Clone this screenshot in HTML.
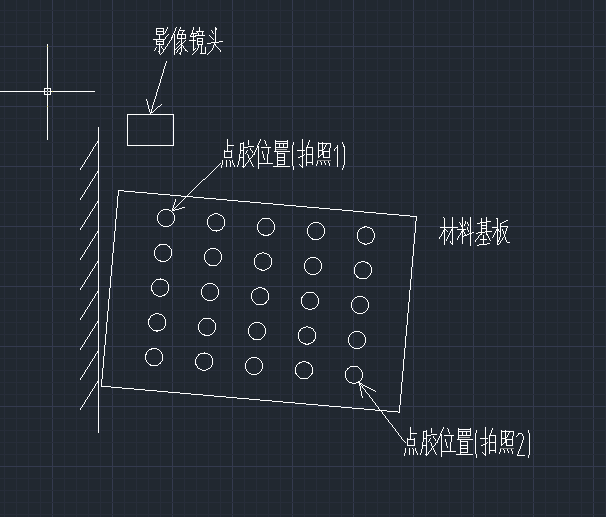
<!DOCTYPE html>
<html><head><meta charset="utf-8"><title>CAD</title>
<style>html,body{margin:0;padding:0;background:#212830;overflow:hidden;font-family:"Liberation Sans",sans-serif}svg{display:block}</style>
</head><body><svg width="606" height="517" viewBox="0 0 606 517" role="img" aria-label="CAD drawing"><desc>影像镜头 点胶位置(拍照1) 材料基板 点胶位置(拍照2)</desc><rect width="606" height="517" fill="#212830"/><g shape-rendering="crispEdges"><rect x="4" y="0" width="1" height="517" fill="#272d39"/><rect x="16" y="0" width="1" height="517" fill="#272d39"/><rect x="28" y="0" width="1" height="517" fill="#272d39"/><rect x="40" y="0" width="1" height="517" fill="#272d39"/><rect x="52" y="0" width="1" height="517" fill="#343a4e"/><rect x="64" y="0" width="1" height="517" fill="#272d39"/><rect x="76" y="0" width="1" height="517" fill="#272d39"/><rect x="88" y="0" width="1" height="517" fill="#272d39"/><rect x="100" y="0" width="1" height="517" fill="#272d39"/><rect x="112" y="0" width="1" height="517" fill="#343a4e"/><rect x="124" y="0" width="1" height="517" fill="#272d39"/><rect x="136" y="0" width="1" height="517" fill="#272d39"/><rect x="148" y="0" width="1" height="517" fill="#272d39"/><rect x="160" y="0" width="1" height="517" fill="#272d39"/><rect x="172" y="0" width="1" height="517" fill="#343a4e"/><rect x="184" y="0" width="1" height="517" fill="#272d39"/><rect x="196" y="0" width="1" height="517" fill="#272d39"/><rect x="208" y="0" width="1" height="517" fill="#272d39"/><rect x="220" y="0" width="1" height="517" fill="#272d39"/><rect x="232" y="0" width="1" height="517" fill="#343a4e"/><rect x="244" y="0" width="1" height="517" fill="#272d39"/><rect x="256" y="0" width="1" height="517" fill="#272d39"/><rect x="268" y="0" width="1" height="517" fill="#272d39"/><rect x="280" y="0" width="1" height="517" fill="#272d39"/><rect x="292" y="0" width="1" height="517" fill="#343a4e"/><rect x="304" y="0" width="1" height="517" fill="#272d39"/><rect x="316" y="0" width="1" height="517" fill="#272d39"/><rect x="329" y="0" width="1" height="517" fill="#272d39"/><rect x="341" y="0" width="1" height="517" fill="#272d39"/><rect x="353" y="0" width="1" height="517" fill="#343a4e"/><rect x="365" y="0" width="1" height="517" fill="#272d39"/><rect x="377" y="0" width="1" height="517" fill="#272d39"/><rect x="389" y="0" width="1" height="517" fill="#272d39"/><rect x="401" y="0" width="1" height="517" fill="#272d39"/><rect x="413" y="0" width="1" height="517" fill="#343a4e"/><rect x="425" y="0" width="1" height="517" fill="#272d39"/><rect x="437" y="0" width="1" height="517" fill="#272d39"/><rect x="449" y="0" width="1" height="517" fill="#272d39"/><rect x="461" y="0" width="1" height="517" fill="#272d39"/><rect x="473" y="0" width="1" height="517" fill="#343a4e"/><rect x="485" y="0" width="1" height="517" fill="#272d39"/><rect x="497" y="0" width="1" height="517" fill="#272d39"/><rect x="509" y="0" width="1" height="517" fill="#272d39"/><rect x="521" y="0" width="1" height="517" fill="#272d39"/><rect x="533" y="0" width="1" height="517" fill="#343a4e"/><rect x="545" y="0" width="1" height="517" fill="#272d39"/><rect x="557" y="0" width="1" height="517" fill="#272d39"/><rect x="569" y="0" width="1" height="517" fill="#272d39"/><rect x="581" y="0" width="1" height="517" fill="#272d39"/><rect x="593" y="0" width="1" height="517" fill="#343a4e"/><rect x="605" y="0" width="1" height="517" fill="#272d39"/><rect x="0" y="10" width="606" height="1" fill="#272d39"/><rect x="0" y="22" width="606" height="1" fill="#272d39"/><rect x="0" y="34" width="606" height="1" fill="#272d39"/><rect x="0" y="46" width="606" height="1" fill="#343a4e"/><rect x="0" y="58" width="606" height="1" fill="#272d39"/><rect x="0" y="70" width="606" height="1" fill="#272d39"/><rect x="0" y="82" width="606" height="1" fill="#272d39"/><rect x="0" y="94" width="606" height="1" fill="#272d39"/><rect x="0" y="106" width="606" height="1" fill="#343a4e"/><rect x="0" y="118" width="606" height="1" fill="#272d39"/><rect x="0" y="130" width="606" height="1" fill="#272d39"/><rect x="0" y="142" width="606" height="1" fill="#272d39"/><rect x="0" y="154" width="606" height="1" fill="#272d39"/><rect x="0" y="166" width="606" height="1" fill="#343a4e"/><rect x="0" y="178" width="606" height="1" fill="#272d39"/><rect x="0" y="190" width="606" height="1" fill="#272d39"/><rect x="0" y="202" width="606" height="1" fill="#272d39"/><rect x="0" y="214" width="606" height="1" fill="#272d39"/><rect x="0" y="226" width="606" height="1" fill="#343a4e"/><rect x="0" y="238" width="606" height="1" fill="#272d39"/><rect x="0" y="250" width="606" height="1" fill="#272d39"/><rect x="0" y="262" width="606" height="1" fill="#272d39"/><rect x="0" y="274" width="606" height="1" fill="#272d39"/><rect x="0" y="286" width="606" height="1" fill="#343a4e"/><rect x="0" y="298" width="606" height="1" fill="#272d39"/><rect x="0" y="310" width="606" height="1" fill="#272d39"/><rect x="0" y="322" width="606" height="1" fill="#272d39"/><rect x="0" y="334" width="606" height="1" fill="#272d39"/><rect x="0" y="346" width="606" height="1" fill="#343a4e"/><rect x="0" y="358" width="606" height="1" fill="#272d39"/><rect x="0" y="370" width="606" height="1" fill="#272d39"/><rect x="0" y="382" width="606" height="1" fill="#272d39"/><rect x="0" y="394" width="606" height="1" fill="#272d39"/><rect x="0" y="406" width="606" height="1" fill="#343a4e"/><rect x="0" y="418" width="606" height="1" fill="#272d39"/><rect x="0" y="430" width="606" height="1" fill="#272d39"/><rect x="0" y="442" width="606" height="1" fill="#272d39"/><rect x="0" y="454" width="606" height="1" fill="#272d39"/><rect x="0" y="466" width="606" height="1" fill="#343a4e"/><rect x="0" y="478" width="606" height="1" fill="#272d39"/><rect x="0" y="490" width="606" height="1" fill="#272d39"/><rect x="0" y="502" width="606" height="1" fill="#272d39"/><rect x="0" y="514" width="606" height="1" fill="#272d39"/></g><path shape-rendering="crispEdges" fill="#fff" d="M167 27h1v1h-1zM176 27h1v1h-1zM180 27h1v1h-1zM193 27h1v1h-1zM199 27h1v1h-1zM215 27h1v1h-1zM156 28h8v1h-8zM167 28h1v1h-1zM175 28h1v1h-1zM180 28h1v1h-1zM193 28h1v1h-1zM199 28h1v1h-1zM215 28h2v1h-2zM156 29h1v1h-1zM163 29h1v1h-1zM166 29h1v1h-1zM175 29h1v1h-1zM179 29h1v1h-1zM193 29h1v1h-1zM199 29h1v1h-1zM215 29h2v1h-2zM156 30h1v1h-1zM163 30h1v1h-1zM166 30h1v1h-1zM175 30h1v1h-1zM179 30h6v1h-6zM192 30h1v1h-1zM199 30h1v1h-1zM211 30h1v1h-1zM215 30h1v1h-1zM156 31h8v1h-8zM165 31h1v1h-1zM174 31h1v1h-1zM178 31h1v1h-1zM183 31h1v1h-1zM192 31h1v1h-1zM196 31h8v1h-8zM212 31h1v1h-1zM215 31h1v1h-1zM156 32h1v1h-1zM163 32h1v1h-1zM165 32h1v1h-1zM174 32h1v1h-1zM178 32h1v1h-1zM182 32h1v1h-1zM192 32h1v1h-1zM197 32h1v1h-1zM202 32h1v1h-1zM212 32h1v1h-1zM215 32h1v1h-1zM156 33h1v1h-1zM163 33h2v1h-2zM173 33h1v1h-1zM178 33h1v1h-1zM182 33h1v1h-1zM191 33h6v1h-6zM198 33h1v1h-1zM202 33h1v1h-1zM213 33h1v1h-1zM215 33h1v1h-1zM156 34h8v1h-8zM168 34h1v1h-1zM173 34h2v1h-2zM177 34h9v1h-9zM191 34h1v1h-1zM193 34h1v1h-1zM198 34h1v1h-1zM202 34h1v1h-1zM215 34h1v1h-1zM159 35h1v1h-1zM167 35h1v1h-1zM172 35h1v1h-1zM174 35h1v1h-1zM177 35h1v1h-1zM181 35h1v1h-1zM185 35h1v1h-1zM190 35h1v1h-1zM193 35h1v1h-1zM195 35h10v1h-10zM209 35h1v1h-1zM215 35h1v1h-1zM159 36h1v1h-1zM166 36h1v1h-1zM172 36h1v1h-1zM174 36h1v1h-1zM177 36h1v1h-1zM181 36h1v1h-1zM185 36h1v1h-1zM190 36h6v1h-6zM210 36h1v1h-1zM215 36h1v1h-1zM159 37h1v1h-1zM165 37h1v1h-1zM171 37h2v1h-2zM174 37h1v1h-1zM177 37h1v1h-1zM181 37h1v1h-1zM185 37h1v1h-1zM193 37h1v1h-1zM211 37h1v1h-1zM215 37h1v1h-1zM159 38h1v1h-1zM165 38h1v1h-1zM171 38h1v1h-1zM174 38h1v1h-1zM177 38h9v1h-9zM193 38h1v1h-1zM197 38h6v1h-6zM212 38h1v1h-1zM215 38h1v1h-1zM153 39h12v1h-12zM171 39h1v1h-1zM174 39h1v1h-1zM181 39h1v1h-1zM193 39h1v1h-1zM197 39h1v1h-1zM202 39h1v1h-1zM213 39h1v1h-1zM215 39h1v1h-1zM156 40h1v1h-1zM163 40h1v1h-1zM170 40h1v1h-1zM174 40h1v1h-1zM181 40h1v1h-1zM185 40h1v1h-1zM189 40h7v1h-7zM197 40h1v1h-1zM202 40h1v1h-1zM215 40h1v1h-1zM156 41h8v1h-8zM169 41h1v1h-1zM174 41h1v1h-1zM179 41h1v1h-1zM181 41h1v1h-1zM184 41h1v1h-1zM193 41h1v1h-1zM197 41h6v1h-6zM215 41h1v1h-1zM219 41h4v1h-4zM156 42h1v1h-1zM163 42h1v1h-1zM169 42h1v1h-1zM174 42h1v1h-1zM178 42h1v1h-1zM181 42h1v1h-1zM183 42h1v1h-1zM193 42h1v1h-1zM197 42h1v1h-1zM202 42h1v1h-1zM211 42h8v1h-8zM156 43h1v1h-1zM159 43h1v1h-1zM163 43h1v1h-1zM168 43h1v1h-1zM174 43h1v1h-1zM177 43h1v1h-1zM181 43h2v1h-2zM193 43h1v1h-1zM197 43h1v1h-1zM202 43h1v1h-1zM207 43h4v1h-4zM214 43h1v1h-1zM47 44h1v1h-1zM156 44h8v1h-8zM167 44h1v1h-1zM174 44h1v1h-1zM176 44h1v1h-1zM180 44h2v1h-2zM193 44h1v1h-1zM197 44h6v1h-6zM214 44h2v1h-2zM47 45h1v1h-1zM159 45h1v1h-1zM167 45h1v1h-1zM174 45h1v1h-1zM179 45h1v1h-1zM181 45h2v1h-2zM193 45h1v1h-1zM198 45h1v1h-1zM201 45h1v1h-1zM213 45h1v1h-1zM215 45h1v1h-1zM47 46h1v1h-1zM159 46h1v1h-1zM161 46h1v1h-1zM166 46h1v1h-1zM174 46h1v1h-1zM178 46h1v1h-1zM181 46h1v1h-1zM183 46h1v1h-1zM193 46h1v1h-1zM198 46h1v1h-1zM201 46h1v1h-1zM213 46h1v1h-1zM216 46h1v1h-1zM47 47h1v1h-1zM156 47h1v1h-1zM159 47h1v1h-1zM161 47h1v1h-1zM165 47h1v1h-1zM174 47h1v1h-1zM177 47h1v1h-1zM180 47h2v1h-2zM183 47h1v1h-1zM193 47h1v1h-1zM198 47h1v1h-1zM201 47h1v1h-1zM205 47h1v1h-1zM213 47h1v1h-1zM217 47h1v1h-1zM47 48h1v1h-1zM155 48h1v1h-1zM159 48h1v1h-1zM162 48h1v1h-1zM165 48h1v1h-1zM174 48h1v1h-1zM176 48h1v1h-1zM179 48h1v1h-1zM181 48h1v1h-1zM184 48h1v1h-1zM193 48h1v1h-1zM195 48h1v1h-1zM197 48h1v1h-1zM201 48h1v1h-1zM205 48h1v1h-1zM212 48h1v1h-1zM218 48h1v1h-1zM47 49h1v1h-1zM155 49h1v1h-1zM159 49h1v1h-1zM163 49h2v1h-2zM174 49h2v1h-2zM178 49h1v1h-1zM181 49h1v1h-1zM185 49h1v1h-1zM193 49h2v1h-2zM197 49h1v1h-1zM201 49h1v1h-1zM205 49h1v1h-1zM212 49h1v1h-1zM219 49h1v1h-1zM47 50h1v1h-1zM154 50h1v1h-1zM159 50h1v1h-1zM163 50h1v1h-1zM174 50h1v1h-1zM177 50h1v1h-1zM181 50h1v1h-1zM185 50h2v1h-2zM193 50h1v1h-1zM196 50h1v1h-1zM201 50h1v1h-1zM205 50h1v1h-1zM211 50h1v1h-1zM220 50h1v1h-1zM47 51h1v1h-1zM158 51h2v1h-2zM163 51h1v1h-1zM174 51h1v1h-1zM177 51h1v1h-1zM181 51h1v1h-1zM187 51h1v1h-1zM195 51h1v1h-1zM201 51h1v1h-1zM205 51h1v1h-1zM210 51h1v1h-1zM220 51h1v1h-1zM47 52h1v1h-1zM159 52h1v1h-1zM162 52h1v1h-1zM174 52h1v1h-1zM176 52h1v1h-1zM180 52h1v1h-1zM194 52h1v1h-1zM201 52h1v1h-1zM205 52h1v1h-1zM209 52h1v1h-1zM47 53h1v1h-1zM159 53h1v1h-1zM161 53h1v1h-1zM174 53h1v1h-1zM179 53h2v1h-2zM193 53h1v1h-1zM200 53h6v1h-6zM208 53h1v1h-1zM47 54h1v1h-1zM160 54h1v1h-1zM174 54h1v1h-1zM180 54h1v1h-1zM192 54h1v1h-1zM207 54h1v1h-1zM47 55h1v1h-1zM47 56h1v1h-1zM47 57h1v1h-1zM47 58h1v1h-1zM47 59h1v1h-1zM47 60h1v1h-1zM47 61h1v1h-1zM166 61h1v1h-1zM47 62h1v1h-1zM166 62h1v1h-1zM47 63h1v1h-1zM165 63h1v1h-1zM47 64h1v1h-1zM165 64h1v1h-1zM47 65h1v1h-1zM165 65h1v1h-1zM47 66h1v1h-1zM164 66h1v1h-1zM47 67h1v1h-1zM164 67h1v1h-1zM47 68h1v1h-1zM164 68h1v1h-1zM47 69h1v1h-1zM163 69h1v1h-1zM47 70h1v1h-1zM163 70h1v1h-1zM47 71h1v1h-1zM163 71h1v1h-1zM47 72h1v1h-1zM163 72h1v1h-1zM47 73h1v1h-1zM162 73h1v1h-1zM47 74h1v1h-1zM162 74h1v1h-1zM47 75h1v1h-1zM162 75h1v1h-1zM47 76h1v1h-1zM161 76h1v1h-1zM47 77h1v1h-1zM161 77h1v1h-1zM47 78h1v1h-1zM161 78h1v1h-1zM47 79h1v1h-1zM160 79h1v1h-1zM47 80h1v1h-1zM160 80h1v1h-1zM47 81h1v1h-1zM160 81h1v1h-1zM47 82h1v1h-1zM160 82h1v1h-1zM47 83h1v1h-1zM159 83h1v1h-1zM47 84h1v1h-1zM159 84h1v1h-1zM47 85h1v1h-1zM159 85h1v1h-1zM47 86h1v1h-1zM158 86h1v1h-1zM47 87h1v1h-1zM158 87h1v1h-1zM47 88h1v1h-1zM158 88h1v1h-1zM47 89h1v1h-1zM157 89h1v1h-1zM47 90h1v1h-1zM157 90h1v1h-1zM0 91h95v1h-95zM157 91h1v1h-1zM47 92h1v1h-1zM156 92h1v1h-1zM47 93h1v1h-1zM156 93h1v1h-1zM47 94h1v1h-1zM156 94h1v1h-1zM47 95h1v1h-1zM156 95h1v1h-1zM47 96h1v1h-1zM155 96h1v1h-1zM47 97h1v1h-1zM155 97h1v1h-1zM47 98h1v1h-1zM155 98h1v1h-1zM47 99h1v1h-1zM146 99h1v1h-1zM154 99h1v1h-1zM47 100h1v1h-1zM146 100h1v1h-1zM154 100h1v1h-1zM47 101h1v1h-1zM147 101h1v1h-1zM154 101h1v1h-1zM47 102h1v1h-1zM147 102h1v1h-1zM153 102h1v1h-1zM47 103h1v1h-1zM147 103h1v1h-1zM153 103h1v1h-1zM47 104h1v1h-1zM147 104h1v1h-1zM153 104h1v1h-1zM161 104h1v1h-1zM47 105h1v1h-1zM148 105h1v1h-1zM152 105h1v1h-1zM160 105h1v1h-1zM47 106h1v1h-1zM148 106h1v1h-1zM152 106h1v1h-1zM158 106h2v1h-2zM47 107h1v1h-1zM148 107h1v1h-1zM152 107h1v1h-1zM157 107h1v1h-1zM47 108h1v1h-1zM148 108h1v1h-1zM152 108h1v1h-1zM156 108h1v1h-1zM47 109h1v1h-1zM149 109h1v1h-1zM151 109h1v1h-1zM155 109h1v1h-1zM47 110h1v1h-1zM149 110h1v1h-1zM151 110h1v1h-1zM154 110h1v1h-1zM47 111h1v1h-1zM149 111h1v1h-1zM151 111h1v1h-1zM153 111h1v1h-1zM47 112h1v1h-1zM150 112h3v1h-3zM47 113h1v1h-1zM150 113h1v1h-1zM47 114h1v1h-1zM127 114h47v1h-47zM47 115h1v1h-1zM127 115h1v1h-1zM173 115h1v1h-1zM47 116h1v1h-1zM127 116h1v1h-1zM173 116h1v1h-1zM47 117h1v1h-1zM127 117h1v1h-1zM173 117h1v1h-1zM47 118h1v1h-1zM127 118h1v1h-1zM173 118h1v1h-1zM47 119h1v1h-1zM127 119h1v1h-1zM173 119h1v1h-1zM47 120h1v1h-1zM127 120h1v1h-1zM173 120h1v1h-1zM47 121h1v1h-1zM127 121h1v1h-1zM173 121h1v1h-1zM47 122h1v1h-1zM127 122h1v1h-1zM173 122h1v1h-1zM47 123h1v1h-1zM127 123h1v1h-1zM173 123h1v1h-1zM47 124h1v1h-1zM127 124h1v1h-1zM173 124h1v1h-1zM47 125h1v1h-1zM127 125h1v1h-1zM173 125h1v1h-1zM47 126h1v1h-1zM127 126h1v1h-1zM173 126h1v1h-1zM47 127h1v1h-1zM98 127h1v1h-1zM127 127h1v1h-1zM173 127h1v1h-1zM47 128h1v1h-1zM98 128h1v1h-1zM127 128h1v1h-1zM173 128h1v1h-1zM47 129h1v1h-1zM98 129h1v1h-1zM127 129h1v1h-1zM173 129h1v1h-1zM47 130h1v1h-1zM98 130h1v1h-1zM127 130h1v1h-1zM173 130h1v1h-1zM47 131h1v1h-1zM98 131h1v1h-1zM127 131h1v1h-1zM173 131h1v1h-1zM47 132h1v1h-1zM98 132h1v1h-1zM127 132h1v1h-1zM173 132h1v1h-1zM47 133h1v1h-1zM98 133h1v1h-1zM127 133h1v1h-1zM173 133h1v1h-1zM47 134h1v1h-1zM98 134h1v1h-1zM127 134h1v1h-1zM173 134h1v1h-1zM47 135h1v1h-1zM98 135h1v1h-1zM127 135h1v1h-1zM173 135h1v1h-1zM47 136h1v1h-1zM98 136h1v1h-1zM127 136h1v1h-1zM173 136h1v1h-1zM47 137h1v1h-1zM98 137h1v1h-1zM127 137h1v1h-1zM173 137h1v1h-1zM47 138h1v1h-1zM98 138h1v1h-1zM127 138h1v1h-1zM173 138h1v1h-1zM47 139h1v1h-1zM98 139h1v1h-1zM127 139h1v1h-1zM173 139h1v1h-1zM227 139h1v1h-1zM260 139h1v1h-1zM302 139h1v1h-1zM98 140h1v1h-1zM127 140h1v1h-1zM173 140h1v1h-1zM227 140h1v1h-1zM248 140h1v1h-1zM260 140h1v1h-1zM264 140h1v1h-1zM275 140h1v1h-1zM287 140h1v1h-1zM302 140h1v1h-1zM309 140h1v1h-1zM97 141h2v1h-2zM127 141h1v1h-1zM173 141h1v1h-1zM227 141h1v1h-1zM248 141h1v1h-1zM259 141h1v1h-1zM265 141h1v1h-1zM275 141h13v1h-13zM302 141h1v1h-1zM309 141h1v1h-1zM97 142h2v1h-2zM127 142h1v1h-1zM173 142h1v1h-1zM227 142h1v1h-1zM243 142h1v1h-1zM248 142h1v1h-1zM259 142h1v1h-1zM265 142h1v1h-1zM275 142h1v1h-1zM287 142h1v1h-1zM293 142h1v1h-1zM302 142h1v1h-1zM308 142h1v1h-1zM318 142h1v1h-1zM322 142h1v1h-1zM342 142h1v1h-1zM96 143h1v1h-1zM98 143h1v1h-1zM127 143h1v1h-1zM173 143h1v1h-1zM227 143h1v1h-1zM240 143h4v1h-4zM248 143h1v1h-1zM258 143h1v1h-1zM265 143h1v1h-1zM275 143h13v1h-13zM293 143h1v1h-1zM302 143h1v1h-1zM308 143h1v1h-1zM318 143h13v1h-13zM342 143h1v1h-1zM95 144h1v1h-1zM98 144h1v1h-1zM127 144h1v1h-1zM173 144h1v1h-1zM227 144h1v1h-1zM240 144h1v1h-1zM243 144h1v1h-1zM248 144h1v1h-1zM258 144h1v1h-1zM266 144h1v1h-1zM275 144h1v1h-1zM279 144h1v1h-1zM283 144h1v1h-1zM287 144h1v1h-1zM293 144h1v1h-1zM302 144h1v1h-1zM308 144h1v1h-1zM318 144h1v1h-1zM322 144h1v1h-1zM326 144h1v1h-1zM330 144h1v1h-1zM343 144h1v1h-1zM95 145h1v1h-1zM98 145h1v1h-1zM127 145h47v1h-47zM227 145h7v1h-7zM240 145h1v1h-1zM243 145h1v1h-1zM257 145h1v1h-1zM266 145h1v1h-1zM275 145h1v1h-1zM279 145h1v1h-1zM283 145h1v1h-1zM287 145h1v1h-1zM292 145h1v1h-1zM302 145h1v1h-1zM307 145h1v1h-1zM318 145h1v1h-1zM322 145h1v1h-1zM325 145h1v1h-1zM330 145h1v1h-1zM337 145h1v1h-1zM343 145h1v1h-1zM94 146h1v1h-1zM98 146h1v1h-1zM227 146h1v1h-1zM240 146h1v1h-1zM243 146h1v1h-1zM248 146h6v1h-6zM257 146h2v1h-2zM275 146h1v1h-1zM279 146h1v1h-1zM283 146h1v1h-1zM287 146h1v1h-1zM292 146h1v1h-1zM302 146h1v1h-1zM307 146h1v1h-1zM318 146h1v1h-1zM322 146h1v1h-1zM325 146h1v1h-1zM330 146h1v1h-1zM337 146h1v1h-1zM343 146h2v1h-2zM93 147h1v1h-1zM98 147h1v1h-1zM227 147h1v1h-1zM240 147h1v1h-1zM243 147h5v1h-5zM257 147h2v1h-2zM261 147h10v1h-10zM275 147h13v1h-13zM292 147h1v1h-1zM302 147h1v1h-1zM306 147h7v1h-7zM318 147h1v1h-1zM322 147h1v1h-1zM324 147h1v1h-1zM330 147h1v1h-1zM336 147h2v1h-2zM344 147h1v1h-1zM93 148h1v1h-1zM98 148h1v1h-1zM227 148h1v1h-1zM240 148h1v1h-1zM243 148h1v1h-1zM250 148h1v1h-1zM256 148h1v1h-1zM258 148h1v1h-1zM268 148h1v1h-1zM275 148h1v1h-1zM292 148h1v1h-1zM302 148h1v1h-1zM306 148h1v1h-1zM312 148h1v1h-1zM318 148h1v1h-1zM322 148h1v1h-1zM324 148h1v1h-1zM329 148h1v1h-1zM335 148h1v1h-1zM337 148h1v1h-1zM344 148h1v1h-1zM92 149h1v1h-1zM98 149h1v1h-1zM227 149h1v1h-1zM240 149h1v1h-1zM243 149h1v1h-1zM250 149h1v1h-1zM256 149h1v1h-1zM258 149h1v1h-1zM268 149h1v1h-1zM275 149h1v1h-1zM292 149h1v1h-1zM302 149h1v1h-1zM306 149h1v1h-1zM312 149h1v1h-1zM318 149h1v1h-1zM322 149h2v1h-2zM329 149h1v1h-1zM334 149h1v1h-1zM337 149h1v1h-1zM344 149h1v1h-1zM92 150h1v1h-1zM98 150h1v1h-1zM224 150h1v1h-1zM227 150h1v1h-1zM231 150h1v1h-1zM240 150h4v1h-4zM247 150h1v1h-1zM251 150h1v1h-1zM255 150h1v1h-1zM258 150h1v1h-1zM268 150h1v1h-1zM275 150h1v1h-1zM292 150h1v1h-1zM297 150h8v1h-8zM306 150h1v1h-1zM312 150h1v1h-1zM318 150h5v1h-5zM329 150h1v1h-1zM334 150h1v1h-1zM337 150h1v1h-1zM344 150h1v1h-1zM91 151h1v1h-1zM98 151h1v1h-1zM224 151h8v1h-8zM240 151h1v1h-1zM243 151h1v1h-1zM246 151h1v1h-1zM252 151h1v1h-1zM255 151h1v1h-1zM258 151h1v1h-1zM262 151h1v1h-1zM268 151h1v1h-1zM274 151h16v1h-16zM292 151h1v1h-1zM302 151h1v1h-1zM306 151h1v1h-1zM312 151h1v1h-1zM318 151h1v1h-1zM322 151h8v1h-8zM337 151h1v1h-1zM344 151h1v1h-1zM90 152h1v1h-1zM98 152h1v1h-1zM224 152h1v1h-1zM231 152h1v1h-1zM240 152h1v1h-1zM243 152h1v1h-1zM246 152h1v1h-1zM252 152h1v1h-1zM254 152h1v1h-1zM258 152h1v1h-1zM262 152h1v1h-1zM268 152h1v1h-1zM277 152h1v1h-1zM292 152h1v1h-1zM302 152h1v1h-1zM306 152h1v1h-1zM312 152h1v1h-1zM318 152h1v1h-1zM322 152h2v1h-2zM329 152h1v1h-1zM337 152h1v1h-1zM344 152h1v1h-1zM90 153h1v1h-1zM98 153h1v1h-1zM224 153h1v1h-1zM231 153h1v1h-1zM240 153h1v1h-1zM243 153h1v1h-1zM245 153h1v1h-1zM254 153h1v1h-1zM258 153h1v1h-1zM262 153h1v1h-1zM268 153h1v1h-1zM277 153h8v1h-8zM292 153h1v1h-1zM302 153h1v1h-1zM306 153h1v1h-1zM312 153h1v1h-1zM318 153h1v1h-1zM322 153h2v1h-2zM329 153h1v1h-1zM337 153h1v1h-1zM344 153h1v1h-1zM89 154h1v1h-1zM98 154h1v1h-1zM224 154h1v1h-1zM231 154h1v1h-1zM239 154h1v1h-1zM243 154h1v1h-1zM247 154h1v1h-1zM253 154h2v1h-2zM258 154h1v1h-1zM263 154h1v1h-1zM267 154h1v1h-1zM277 154h1v1h-1zM284 154h1v1h-1zM292 154h1v1h-1zM302 154h1v1h-1zM304 154h1v1h-1zM306 154h7v1h-7zM318 154h1v1h-1zM321 154h3v1h-3zM329 154h1v1h-1zM337 154h1v1h-1zM344 154h1v1h-1zM89 155h1v1h-1zM98 155h1v1h-1zM224 155h1v1h-1zM231 155h1v1h-1zM239 155h1v1h-1zM243 155h1v1h-1zM248 155h1v1h-1zM252 155h1v1h-1zM258 155h1v1h-1zM263 155h1v1h-1zM267 155h1v1h-1zM277 155h1v1h-1zM284 155h1v1h-1zM292 155h1v1h-1zM302 155h2v1h-2zM306 155h1v1h-1zM312 155h1v1h-1zM318 155h1v1h-1zM320 155h1v1h-1zM323 155h1v1h-1zM329 155h1v1h-1zM337 155h1v1h-1zM344 155h1v1h-1zM88 156h1v1h-1zM98 156h1v1h-1zM224 156h1v1h-1zM231 156h1v1h-1zM239 156h1v1h-1zM243 156h1v1h-1zM248 156h1v1h-1zM252 156h1v1h-1zM258 156h1v1h-1zM263 156h1v1h-1zM267 156h1v1h-1zM277 156h1v1h-1zM284 156h1v1h-1zM292 156h1v1h-1zM300 156h3v1h-3zM306 156h1v1h-1zM312 156h1v1h-1zM318 156h2v1h-2zM323 156h1v1h-1zM329 156h1v1h-1zM337 156h1v1h-1zM344 156h1v1h-1zM87 157h1v1h-1zM98 157h1v1h-1zM224 157h8v1h-8zM239 157h5v1h-5zM248 157h1v1h-1zM251 157h1v1h-1zM258 157h1v1h-1zM263 157h1v1h-1zM267 157h1v1h-1zM277 157h8v1h-8zM292 157h1v1h-1zM298 157h2v1h-2zM302 157h1v1h-1zM306 157h1v1h-1zM312 157h1v1h-1zM318 157h1v1h-1zM323 157h7v1h-7zM337 157h1v1h-1zM344 157h1v1h-1zM87 158h1v1h-1zM98 158h1v1h-1zM239 158h1v1h-1zM243 158h1v1h-1zM249 158h2v1h-2zM258 158h1v1h-1zM264 158h1v1h-1zM267 158h1v1h-1zM277 158h1v1h-1zM284 158h1v1h-1zM292 158h1v1h-1zM302 158h1v1h-1zM306 158h1v1h-1zM312 158h1v1h-1zM337 158h1v1h-1zM344 158h1v1h-1zM86 159h1v1h-1zM98 159h1v1h-1zM239 159h1v1h-1zM243 159h1v1h-1zM249 159h1v1h-1zM258 159h1v1h-1zM264 159h1v1h-1zM267 159h1v1h-1zM277 159h1v1h-1zM284 159h1v1h-1zM292 159h1v1h-1zM302 159h1v1h-1zM306 159h1v1h-1zM312 159h1v1h-1zM337 159h1v1h-1zM344 159h1v1h-1zM85 160h1v1h-1zM98 160h1v1h-1zM222 160h1v1h-1zM226 160h1v1h-1zM229 160h1v1h-1zM232 160h1v1h-1zM239 160h1v1h-1zM243 160h1v1h-1zM248 160h1v1h-1zM250 160h1v1h-1zM258 160h1v1h-1zM267 160h1v1h-1zM277 160h8v1h-8zM292 160h1v1h-1zM302 160h1v1h-1zM306 160h1v1h-1zM312 160h1v1h-1zM337 160h1v1h-1zM344 160h1v1h-1zM85 161h1v1h-1zM98 161h1v1h-1zM222 161h1v1h-1zM226 161h1v1h-1zM230 161h1v1h-1zM232 161h1v1h-1zM238 161h1v1h-1zM243 161h1v1h-1zM248 161h1v1h-1zM250 161h1v1h-1zM258 161h1v1h-1zM267 161h1v1h-1zM277 161h1v1h-1zM284 161h1v1h-1zM292 161h1v1h-1zM302 161h1v1h-1zM306 161h1v1h-1zM312 161h1v1h-1zM317 161h1v1h-1zM320 161h1v1h-1zM324 161h1v1h-1zM328 161h1v1h-1zM337 161h1v1h-1zM344 161h1v1h-1zM84 162h1v1h-1zM98 162h1v1h-1zM222 162h1v1h-1zM226 162h1v1h-1zM230 162h1v1h-1zM232 162h1v1h-1zM238 162h1v1h-1zM243 162h1v1h-1zM247 162h1v1h-1zM251 162h1v1h-1zM258 162h1v1h-1zM267 162h1v1h-1zM277 162h1v1h-1zM284 162h1v1h-1zM292 162h1v1h-1zM302 162h1v1h-1zM306 162h7v1h-7zM317 162h1v1h-1zM321 162h1v1h-1zM324 162h1v1h-1zM328 162h1v1h-1zM337 162h1v1h-1zM344 162h1v1h-1zM84 163h1v1h-1zM98 163h1v1h-1zM220 163h1v1h-1zM222 163h1v1h-1zM226 163h1v1h-1zM230 163h1v1h-1zM233 163h1v1h-1zM238 163h1v1h-1zM243 163h1v1h-1zM246 163h1v1h-1zM251 163h1v1h-1zM258 163h15v1h-15zM277 163h1v1h-1zM284 163h1v1h-1zM292 163h1v1h-1zM302 163h1v1h-1zM306 163h1v1h-1zM312 163h1v1h-1zM317 163h1v1h-1zM321 163h1v1h-1zM325 163h1v1h-1zM329 163h1v1h-1zM337 163h1v1h-1zM344 163h1v1h-1zM83 164h1v1h-1zM98 164h1v1h-1zM219 164h1v1h-1zM222 164h1v1h-1zM226 164h1v1h-1zM230 164h1v1h-1zM233 164h1v1h-1zM238 164h1v1h-1zM243 164h1v1h-1zM245 164h1v1h-1zM252 164h1v1h-1zM258 164h1v1h-1zM277 164h8v1h-8zM292 164h1v1h-1zM299 164h1v1h-1zM302 164h1v1h-1zM306 164h1v1h-1zM312 164h1v1h-1zM316 164h1v1h-1zM321 164h1v1h-1zM325 164h1v1h-1zM329 164h1v1h-1zM337 164h1v1h-1zM344 164h1v1h-1zM82 165h1v1h-1zM98 165h1v1h-1zM218 165h1v1h-1zM221 165h1v1h-1zM226 165h1v1h-1zM230 165h1v1h-1zM234 165h1v1h-1zM237 165h1v1h-1zM243 165h1v1h-1zM245 165h1v1h-1zM252 165h1v1h-1zM258 165h1v1h-1zM277 165h1v1h-1zM292 165h1v1h-1zM300 165h1v1h-1zM302 165h1v1h-1zM306 165h1v1h-1zM316 165h1v1h-1zM329 165h1v1h-1zM337 165h1v1h-1zM343 165h1v1h-1zM82 166h1v1h-1zM98 166h1v1h-1zM217 166h1v1h-1zM221 166h1v1h-1zM226 166h1v1h-1zM230 166h1v1h-1zM234 166h1v1h-1zM237 166h1v1h-1zM242 166h3v1h-3zM253 166h1v1h-1zM258 166h1v1h-1zM273 166h17v1h-17zM293 166h1v1h-1zM301 166h2v1h-2zM337 166h1v1h-1zM343 166h1v1h-1zM81 167h1v1h-1zM98 167h1v1h-1zM216 167h1v1h-1zM221 167h1v1h-1zM243 167h1v1h-1zM258 167h1v1h-1zM293 167h1v1h-1zM302 167h1v1h-1zM343 167h1v1h-1zM80 168h1v1h-1zM98 168h1v1h-1zM215 168h1v1h-1zM258 168h1v1h-1zM293 168h1v1h-1zM342 168h1v1h-1zM80 169h1v1h-1zM98 169h1v1h-1zM214 169h1v1h-1zM293 169h1v1h-1zM342 169h1v1h-1zM98 170h1v1h-1zM213 170h1v1h-1zM97 171h2v1h-2zM212 171h1v1h-1zM97 172h2v1h-2zM211 172h1v1h-1zM96 173h1v1h-1zM98 173h1v1h-1zM210 173h1v1h-1zM95 174h1v1h-1zM98 174h1v1h-1zM209 174h1v1h-1zM95 175h1v1h-1zM98 175h1v1h-1zM208 175h1v1h-1zM94 176h1v1h-1zM98 176h1v1h-1zM207 176h1v1h-1zM94 177h1v1h-1zM98 177h1v1h-1zM206 177h1v1h-1zM93 178h1v1h-1zM98 178h1v1h-1zM205 178h1v1h-1zM92 179h1v1h-1zM98 179h1v1h-1zM203 179h2v1h-2zM92 180h1v1h-1zM98 180h1v1h-1zM202 180h1v1h-1zM91 181h1v1h-1zM98 181h1v1h-1zM201 181h1v1h-1zM90 182h1v1h-1zM98 182h1v1h-1zM200 182h1v1h-1zM90 183h1v1h-1zM98 183h1v1h-1zM199 183h1v1h-1zM89 184h1v1h-1zM98 184h1v1h-1zM198 184h1v1h-1zM89 185h1v1h-1zM98 185h1v1h-1zM197 185h1v1h-1zM88 186h1v1h-1zM98 186h1v1h-1zM196 186h1v1h-1zM87 187h1v1h-1zM98 187h1v1h-1zM195 187h1v1h-1zM87 188h1v1h-1zM98 188h1v1h-1zM194 188h1v1h-1zM86 189h1v1h-1zM98 189h1v1h-1zM193 189h1v1h-1zM85 190h1v1h-1zM98 190h1v1h-1zM118 190h6v1h-6zM192 190h1v1h-1zM85 191h1v1h-1zM98 191h1v1h-1zM118 191h1v1h-1zM124 191h11v1h-11zM191 191h1v1h-1zM84 192h1v1h-1zM98 192h1v1h-1zM118 192h1v1h-1zM135 192h12v1h-12zM190 192h1v1h-1zM84 193h1v1h-1zM98 193h1v1h-1zM118 193h1v1h-1zM147 193h11v1h-11zM189 193h1v1h-1zM83 194h1v1h-1zM98 194h1v1h-1zM118 194h1v1h-1zM158 194h12v1h-12zM188 194h1v1h-1zM82 195h1v1h-1zM98 195h1v1h-1zM118 195h1v1h-1zM170 195h11v1h-11zM187 195h1v1h-1zM82 196h1v1h-1zM98 196h1v1h-1zM117 196h1v1h-1zM181 196h12v1h-12zM81 197h1v1h-1zM98 197h1v1h-1zM117 197h1v1h-1zM185 197h1v1h-1zM193 197h11v1h-11zM80 198h1v1h-1zM98 198h1v1h-1zM117 198h1v1h-1zM184 198h1v1h-1zM204 198h12v1h-12zM80 199h1v1h-1zM98 199h1v1h-1zM117 199h1v1h-1zM175 199h1v1h-1zM183 199h1v1h-1zM216 199h11v1h-11zM98 200h1v1h-1zM117 200h1v1h-1zM175 200h1v1h-1zM182 200h1v1h-1zM227 200h11v1h-11zM97 201h2v1h-2zM117 201h1v1h-1zM175 201h1v1h-1zM181 201h1v1h-1zM238 201h12v1h-12zM97 202h2v1h-2zM117 202h1v1h-1zM174 202h1v1h-1zM180 202h1v1h-1zM250 202h11v1h-11zM96 203h1v1h-1zM98 203h1v1h-1zM117 203h1v1h-1zM174 203h1v1h-1zM179 203h1v1h-1zM261 203h12v1h-12zM95 204h1v1h-1zM98 204h1v1h-1zM117 204h1v1h-1zM174 204h1v1h-1zM178 204h1v1h-1zM273 204h11v1h-11zM95 205h1v1h-1zM98 205h1v1h-1zM117 205h1v1h-1zM173 205h1v1h-1zM177 205h1v1h-1zM284 205h12v1h-12zM94 206h1v1h-1zM98 206h1v1h-1zM117 206h1v1h-1zM173 206h1v1h-1zM176 206h1v1h-1zM296 206h11v1h-11zM94 207h1v1h-1zM98 207h1v1h-1zM117 207h1v1h-1zM173 207h1v1h-1zM175 207h1v1h-1zM182 207h3v1h-3zM307 207h12v1h-12zM93 208h1v1h-1zM98 208h1v1h-1zM116 208h1v1h-1zM172 208h1v1h-1zM174 208h1v1h-1zM179 208h3v1h-3zM319 208h11v1h-11zM92 209h1v1h-1zM98 209h1v1h-1zM116 209h1v1h-1zM163 209h6v1h-6zM172 209h2v1h-2zM175 209h4v1h-4zM330 209h12v1h-12zM92 210h1v1h-1zM98 210h1v1h-1zM116 210h1v1h-1zM161 210h2v1h-2zM169 210h2v1h-2zM172 210h3v1h-3zM342 210h11v1h-11zM91 211h1v1h-1zM98 211h1v1h-1zM116 211h1v1h-1zM160 211h1v1h-1zM171 211h1v1h-1zM353 211h11v1h-11zM90 212h1v1h-1zM98 212h1v1h-1zM116 212h1v1h-1zM159 212h1v1h-1zM172 212h1v1h-1zM364 212h12v1h-12zM90 213h1v1h-1zM98 213h1v1h-1zM116 213h1v1h-1zM158 213h1v1h-1zM173 213h1v1h-1zM214 213h4v1h-4zM376 213h11v1h-11zM89 214h1v1h-1zM98 214h1v1h-1zM116 214h1v1h-1zM158 214h1v1h-1zM173 214h1v1h-1zM212 214h2v1h-2zM218 214h2v1h-2zM387 214h12v1h-12zM89 215h1v1h-1zM98 215h1v1h-1zM116 215h1v1h-1zM157 215h1v1h-1zM174 215h1v1h-1zM210 215h2v1h-2zM220 215h2v1h-2zM399 215h11v1h-11zM88 216h1v1h-1zM98 216h1v1h-1zM116 216h1v1h-1zM157 216h1v1h-1zM174 216h1v1h-1zM209 216h1v1h-1zM222 216h1v1h-1zM410 216h7v1h-7zM87 217h1v1h-1zM98 217h1v1h-1zM116 217h1v1h-1zM157 217h1v1h-1zM174 217h1v1h-1zM208 217h1v1h-1zM223 217h1v1h-1zM416 217h1v1h-1zM443 217h1v1h-1zM452 217h1v1h-1zM462 217h1v1h-1zM470 217h1v1h-1zM486 217h1v1h-1zM87 218h1v1h-1zM98 218h1v1h-1zM116 218h1v1h-1zM157 218h1v1h-1zM174 218h1v1h-1zM208 218h1v1h-1zM223 218h1v1h-1zM262 218h8v1h-8zM416 218h1v1h-1zM444 218h1v1h-1zM452 218h1v1h-1zM462 218h1v1h-1zM470 218h1v1h-1zM481 218h1v1h-1zM486 218h1v1h-1zM496 218h2v1h-2zM86 219h1v1h-1zM98 219h1v1h-1zM115 219h1v1h-1zM157 219h1v1h-1zM174 219h1v1h-1zM207 219h1v1h-1zM224 219h1v1h-1zM261 219h1v1h-1zM270 219h1v1h-1zM416 219h1v1h-1zM444 219h1v1h-1zM452 219h1v1h-1zM462 219h1v1h-1zM470 219h1v1h-1zM481 219h1v1h-1zM486 219h1v1h-1zM497 219h1v1h-1zM85 220h1v1h-1zM98 220h1v1h-1zM115 220h1v1h-1zM157 220h1v1h-1zM174 220h1v1h-1zM207 220h1v1h-1zM224 220h1v1h-1zM260 220h1v1h-1zM271 220h1v1h-1zM416 220h1v1h-1zM444 220h1v1h-1zM452 220h1v1h-1zM462 220h1v1h-1zM470 220h1v1h-1zM481 220h1v1h-1zM486 220h1v1h-1zM497 220h1v1h-1zM506 220h2v1h-2zM85 221h1v1h-1zM98 221h1v1h-1zM115 221h1v1h-1zM158 221h1v1h-1zM173 221h1v1h-1zM207 221h1v1h-1zM224 221h1v1h-1zM259 221h1v1h-1zM272 221h1v1h-1zM415 221h1v1h-1zM444 221h1v1h-1zM452 221h1v1h-1zM462 221h1v1h-1zM465 221h1v1h-1zM470 221h1v1h-1zM481 221h1v1h-1zM486 221h5v1h-5zM497 221h1v1h-1zM504 221h2v1h-2zM84 222h1v1h-1zM98 222h1v1h-1zM115 222h1v1h-1zM158 222h1v1h-1zM173 222h1v1h-1zM207 222h1v1h-1zM224 222h1v1h-1zM258 222h1v1h-1zM273 222h1v1h-1zM313 222h6v1h-6zM415 222h1v1h-1zM444 222h1v1h-1zM452 222h1v1h-1zM459 222h1v1h-1zM462 222h1v1h-1zM465 222h1v1h-1zM467 222h1v1h-1zM470 222h1v1h-1zM480 222h7v1h-7zM497 222h1v1h-1zM502 222h2v1h-2zM84 223h1v1h-1zM98 223h1v1h-1zM115 223h1v1h-1zM159 223h1v1h-1zM172 223h1v1h-1zM207 223h1v1h-1zM224 223h1v1h-1zM258 223h1v1h-1zM273 223h1v1h-1zM311 223h2v1h-2zM319 223h2v1h-2zM415 223h1v1h-1zM444 223h1v1h-1zM452 223h1v1h-1zM460 223h1v1h-1zM462 223h1v1h-1zM465 223h1v1h-1zM467 223h1v1h-1zM470 223h1v1h-1zM477 223h3v1h-3zM481 223h1v1h-1zM486 223h1v1h-1zM497 223h1v1h-1zM500 223h2v1h-2zM83 224h1v1h-1zM98 224h1v1h-1zM115 224h1v1h-1zM160 224h1v1h-1zM171 224h1v1h-1zM207 224h1v1h-1zM224 224h1v1h-1zM257 224h1v1h-1zM274 224h1v1h-1zM310 224h1v1h-1zM321 224h1v1h-1zM415 224h1v1h-1zM444 224h1v1h-1zM452 224h1v1h-1zM460 224h1v1h-1zM462 224h1v1h-1zM464 224h1v1h-1zM468 224h1v1h-1zM470 224h1v1h-1zM481 224h1v1h-1zM486 224h1v1h-1zM497 224h1v1h-1zM500 224h1v1h-1zM82 225h1v1h-1zM98 225h1v1h-1zM115 225h1v1h-1zM161 225h2v1h-2zM169 225h2v1h-2zM208 225h1v1h-1zM224 225h1v1h-1zM257 225h1v1h-1zM274 225h1v1h-1zM309 225h1v1h-1zM322 225h1v1h-1zM415 225h1v1h-1zM444 225h1v1h-1zM452 225h1v1h-1zM461 225h2v1h-2zM464 225h1v1h-1zM468 225h1v1h-1zM470 225h1v1h-1zM481 225h6v1h-6zM497 225h1v1h-1zM500 225h1v1h-1zM82 226h1v1h-1zM98 226h1v1h-1zM115 226h1v1h-1zM163 226h6v1h-6zM208 226h1v1h-1zM223 226h1v1h-1zM257 226h1v1h-1zM274 226h1v1h-1zM308 226h1v1h-1zM323 226h1v1h-1zM364 226h3v1h-3zM415 226h1v1h-1zM444 226h1v1h-1zM452 226h1v1h-1zM461 226h2v1h-2zM470 226h1v1h-1zM481 226h1v1h-1zM486 226h1v1h-1zM497 226h1v1h-1zM500 226h8v1h-8zM81 227h1v1h-1zM98 227h1v1h-1zM115 227h1v1h-1zM209 227h1v1h-1zM222 227h1v1h-1zM257 227h1v1h-1zM274 227h1v1h-1zM308 227h1v1h-1zM323 227h1v1h-1zM362 227h3v1h-3zM367 227h3v1h-3zM415 227h1v1h-1zM440 227h18v1h-18zM462 227h1v1h-1zM467 227h1v1h-1zM470 227h1v1h-1zM481 227h1v1h-1zM486 227h1v1h-1zM492 227h6v1h-6zM500 227h1v1h-1zM507 227h1v1h-1zM80 228h1v1h-1zM98 228h1v1h-1zM115 228h1v1h-1zM210 228h1v1h-1zM222 228h1v1h-1zM257 228h1v1h-1zM274 228h1v1h-1zM307 228h1v1h-1zM324 228h1v1h-1zM360 228h2v1h-2zM370 228h2v1h-2zM415 228h1v1h-1zM444 228h1v1h-1zM452 228h1v1h-1zM462 228h1v1h-1zM467 228h1v1h-1zM470 228h1v1h-1zM481 228h6v1h-6zM497 228h1v1h-1zM500 228h1v1h-1zM506 228h1v1h-1zM80 229h1v1h-1zM98 229h1v1h-1zM115 229h1v1h-1zM211 229h1v1h-1zM220 229h2v1h-2zM257 229h1v1h-1zM274 229h1v1h-1zM307 229h1v1h-1zM324 229h1v1h-1zM359 229h1v1h-1zM372 229h1v1h-1zM415 229h1v1h-1zM444 229h2v1h-2zM451 229h2v1h-2zM457 229h9v1h-9zM467 229h1v1h-1zM470 229h1v1h-1zM481 229h1v1h-1zM486 229h1v1h-1zM496 229h3v1h-3zM500 229h1v1h-1zM502 229h1v1h-1zM506 229h1v1h-1zM98 230h1v1h-1zM115 230h1v1h-1zM212 230h8v1h-8zM258 230h1v1h-1zM273 230h1v1h-1zM307 230h1v1h-1zM324 230h1v1h-1zM358 230h1v1h-1zM372 230h1v1h-1zM415 230h1v1h-1zM443 230h2v1h-2zM446 230h1v1h-1zM451 230h2v1h-2zM462 230h2v1h-2zM468 230h1v1h-1zM470 230h1v1h-1zM481 230h1v1h-1zM486 230h1v1h-1zM496 230h3v1h-3zM500 230h1v1h-1zM502 230h1v1h-1zM506 230h1v1h-1zM97 231h2v1h-2zM114 231h1v1h-1zM216 231h1v1h-1zM258 231h1v1h-1zM273 231h1v1h-1zM307 231h1v1h-1zM324 231h1v1h-1zM358 231h1v1h-1zM373 231h1v1h-1zM415 231h1v1h-1zM443 231h2v1h-2zM447 231h1v1h-1zM450 231h1v1h-1zM452 231h1v1h-1zM461 231h3v1h-3zM468 231h1v1h-1zM470 231h1v1h-1zM481 231h1v1h-1zM485 231h7v1h-7zM495 231h1v1h-1zM497 231h1v1h-1zM499 231h2v1h-2zM503 231h1v1h-1zM505 231h1v1h-1zM97 232h2v1h-2zM114 232h1v1h-1zM259 232h1v1h-1zM272 232h1v1h-1zM307 232h1v1h-1zM324 232h1v1h-1zM357 232h1v1h-1zM373 232h1v1h-1zM415 232h1v1h-1zM442 232h1v1h-1zM444 232h1v1h-1zM450 232h1v1h-1zM452 232h1v1h-1zM461 232h2v1h-2zM464 232h1v1h-1zM470 232h1v1h-1zM472 232h2v1h-2zM478 232h7v1h-7zM486 232h1v1h-1zM495 232h1v1h-1zM497 232h1v1h-1zM500 232h1v1h-1zM503 232h1v1h-1zM505 232h1v1h-1zM96 233h1v1h-1zM98 233h1v1h-1zM114 233h1v1h-1zM260 233h1v1h-1zM271 233h1v1h-1zM307 233h1v1h-1zM324 233h1v1h-1zM357 233h1v1h-1zM374 233h1v1h-1zM414 233h1v1h-1zM442 233h1v1h-1zM444 233h1v1h-1zM449 233h1v1h-1zM452 233h1v1h-1zM460 233h1v1h-1zM462 233h1v1h-1zM464 233h1v1h-1zM469 233h3v1h-3zM476 233h2v1h-2zM481 233h1v1h-1zM486 233h1v1h-1zM494 233h1v1h-1zM497 233h1v1h-1zM500 233h1v1h-1zM503 233h1v1h-1zM505 233h1v1h-1zM95 234h1v1h-1zM98 234h1v1h-1zM114 234h1v1h-1zM261 234h3v1h-3zM268 234h3v1h-3zM308 234h1v1h-1zM323 234h1v1h-1zM357 234h1v1h-1zM374 234h1v1h-1zM414 234h1v1h-1zM441 234h1v1h-1zM444 234h1v1h-1zM449 234h1v1h-1zM452 234h1v1h-1zM460 234h1v1h-1zM462 234h1v1h-1zM465 234h1v1h-1zM467 234h2v1h-2zM470 234h1v1h-1zM480 234h2v1h-2zM486 234h2v1h-2zM494 234h1v1h-1zM497 234h1v1h-1zM500 234h1v1h-1zM504 234h1v1h-1zM95 235h1v1h-1zM98 235h1v1h-1zM114 235h1v1h-1zM263 235h6v1h-6zM308 235h1v1h-1zM323 235h1v1h-1zM357 235h1v1h-1zM374 235h1v1h-1zM414 235h1v1h-1zM441 235h1v1h-1zM444 235h1v1h-1zM448 235h1v1h-1zM452 235h1v1h-1zM459 235h1v1h-1zM462 235h1v1h-1zM464 235h3v1h-3zM470 235h1v1h-1zM479 235h1v1h-1zM483 235h1v1h-1zM487 235h1v1h-1zM493 235h1v1h-1zM497 235h1v1h-1zM500 235h1v1h-1zM504 235h1v1h-1zM94 236h1v1h-1zM98 236h1v1h-1zM114 236h1v1h-1zM309 236h1v1h-1zM322 236h1v1h-1zM357 236h1v1h-1zM374 236h1v1h-1zM414 236h1v1h-1zM440 236h1v1h-1zM444 236h1v1h-1zM448 236h1v1h-1zM452 236h1v1h-1zM458 236h1v1h-1zM462 236h2v1h-2zM470 236h1v1h-1zM478 236h1v1h-1zM483 236h1v1h-1zM488 236h1v1h-1zM493 236h1v1h-1zM497 236h1v1h-1zM500 236h1v1h-1zM504 236h1v1h-1zM94 237h1v1h-1zM98 237h1v1h-1zM114 237h1v1h-1zM310 237h1v1h-1zM321 237h1v1h-1zM357 237h1v1h-1zM374 237h1v1h-1zM414 237h1v1h-1zM439 237h1v1h-1zM444 237h1v1h-1zM447 237h1v1h-1zM452 237h1v1h-1zM458 237h1v1h-1zM462 237h1v1h-1zM470 237h1v1h-1zM478 237h1v1h-1zM483 237h1v1h-1zM488 237h1v1h-1zM492 237h1v1h-1zM497 237h1v1h-1zM499 237h1v1h-1zM503 237h1v1h-1zM505 237h1v1h-1zM93 238h1v1h-1zM98 238h1v1h-1zM114 238h1v1h-1zM311 238h2v1h-2zM319 238h2v1h-2zM357 238h1v1h-1zM373 238h1v1h-1zM414 238h1v1h-1zM439 238h1v1h-1zM444 238h1v1h-1zM447 238h1v1h-1zM452 238h1v1h-1zM457 238h1v1h-1zM462 238h1v1h-1zM470 238h1v1h-1zM477 238h1v1h-1zM483 238h1v1h-1zM489 238h1v1h-1zM497 238h1v1h-1zM499 238h1v1h-1zM502 238h1v1h-1zM505 238h1v1h-1zM92 239h1v1h-1zM98 239h1v1h-1zM114 239h1v1h-1zM312 239h7v1h-7zM358 239h1v1h-1zM373 239h1v1h-1zM414 239h1v1h-1zM444 239h1v1h-1zM446 239h1v1h-1zM452 239h1v1h-1zM457 239h1v1h-1zM462 239h1v1h-1zM470 239h1v1h-1zM476 239h1v1h-1zM480 239h7v1h-7zM489 239h1v1h-1zM497 239h1v1h-1zM499 239h1v1h-1zM502 239h1v1h-1zM505 239h1v1h-1zM92 240h1v1h-1zM98 240h1v1h-1zM114 240h1v1h-1zM358 240h1v1h-1zM372 240h1v1h-1zM414 240h1v1h-1zM444 240h1v1h-1zM446 240h1v1h-1zM452 240h1v1h-1zM462 240h1v1h-1zM470 240h1v1h-1zM475 240h1v1h-1zM483 240h1v1h-1zM490 240h1v1h-1zM497 240h2v1h-2zM501 240h1v1h-1zM506 240h1v1h-1zM91 241h1v1h-1zM98 241h1v1h-1zM114 241h1v1h-1zM359 241h1v1h-1zM372 241h1v1h-1zM414 241h1v1h-1zM444 241h1v1h-1zM450 241h1v1h-1zM452 241h1v1h-1zM462 241h1v1h-1zM470 241h1v1h-1zM475 241h1v1h-1zM483 241h1v1h-1zM497 241h2v1h-2zM500 241h1v1h-1zM506 241h1v1h-1zM90 242h1v1h-1zM98 242h1v1h-1zM113 242h1v1h-1zM360 242h2v1h-2zM370 242h2v1h-2zM414 242h1v1h-1zM444 242h1v1h-1zM450 242h1v1h-1zM452 242h1v1h-1zM462 242h1v1h-1zM470 242h1v1h-1zM483 242h1v1h-1zM497 242h1v1h-1zM500 242h1v1h-1zM507 242h3v1h-3zM90 243h1v1h-1zM98 243h1v1h-1zM113 243h1v1h-1zM362 243h3v1h-3zM367 243h3v1h-3zM414 243h1v1h-1zM444 243h1v1h-1zM451 243h2v1h-2zM462 243h1v1h-1zM470 243h1v1h-1zM483 243h1v1h-1zM487 243h3v1h-3zM497 243h1v1h-1zM499 243h1v1h-1zM89 244h1v1h-1zM98 244h1v1h-1zM113 244h1v1h-1zM159 244h8v1h-8zM364 244h3v1h-3zM413 244h1v1h-1zM444 244h1v1h-1zM452 244h1v1h-1zM470 244h1v1h-1zM479 244h8v1h-8zM497 244h2v1h-2zM89 245h1v1h-1zM98 245h1v1h-1zM113 245h1v1h-1zM158 245h2v1h-2zM167 245h1v1h-1zM413 245h1v1h-1zM470 245h1v1h-1zM477 245h2v1h-2zM88 246h1v1h-1zM98 246h1v1h-1zM113 246h1v1h-1zM157 246h1v1h-1zM168 246h2v1h-2zM413 246h1v1h-1zM87 247h1v1h-1zM98 247h1v1h-1zM113 247h1v1h-1zM156 247h1v1h-1zM169 247h1v1h-1zM413 247h1v1h-1zM87 248h1v1h-1zM98 248h1v1h-1zM113 248h1v1h-1zM155 248h1v1h-1zM170 248h1v1h-1zM210 248h6v1h-6zM413 248h1v1h-1zM86 249h1v1h-1zM98 249h1v1h-1zM113 249h1v1h-1zM155 249h1v1h-1zM171 249h1v1h-1zM208 249h2v1h-2zM216 249h2v1h-2zM413 249h1v1h-1zM85 250h1v1h-1zM98 250h1v1h-1zM113 250h1v1h-1zM154 250h1v1h-1zM171 250h1v1h-1zM207 250h1v1h-1zM218 250h1v1h-1zM413 250h1v1h-1zM85 251h1v1h-1zM98 251h1v1h-1zM113 251h1v1h-1zM154 251h1v1h-1zM171 251h1v1h-1zM206 251h1v1h-1zM219 251h1v1h-1zM413 251h1v1h-1zM84 252h1v1h-1zM98 252h1v1h-1zM113 252h1v1h-1zM154 252h1v1h-1zM171 252h1v1h-1zM205 252h1v1h-1zM220 252h1v1h-1zM262 252h2v1h-2zM413 252h1v1h-1zM84 253h1v1h-1zM98 253h1v1h-1zM112 253h1v1h-1zM154 253h1v1h-1zM171 253h1v1h-1zM205 253h1v1h-1zM220 253h1v1h-1zM259 253h3v1h-3zM264 253h3v1h-3zM413 253h1v1h-1zM83 254h1v1h-1zM98 254h1v1h-1zM112 254h1v1h-1zM154 254h1v1h-1zM171 254h1v1h-1zM204 254h1v1h-1zM221 254h1v1h-1zM257 254h2v1h-2zM267 254h2v1h-2zM413 254h1v1h-1zM82 255h1v1h-1zM98 255h1v1h-1zM112 255h1v1h-1zM154 255h1v1h-1zM171 255h1v1h-1zM204 255h1v1h-1zM221 255h1v1h-1zM256 255h1v1h-1zM269 255h1v1h-1zM413 255h1v1h-1zM82 256h1v1h-1zM98 256h1v1h-1zM112 256h1v1h-1zM155 256h1v1h-1zM170 256h1v1h-1zM204 256h1v1h-1zM221 256h1v1h-1zM256 256h1v1h-1zM269 256h1v1h-1zM412 256h1v1h-1zM81 257h1v1h-1zM98 257h1v1h-1zM112 257h1v1h-1zM155 257h1v1h-1zM170 257h1v1h-1zM204 257h1v1h-1zM221 257h1v1h-1zM255 257h1v1h-1zM270 257h1v1h-1zM310 257h6v1h-6zM412 257h1v1h-1zM80 258h1v1h-1zM98 258h1v1h-1zM112 258h1v1h-1zM156 258h1v1h-1zM169 258h1v1h-1zM204 258h1v1h-1zM221 258h1v1h-1zM254 258h1v1h-1zM271 258h1v1h-1zM308 258h2v1h-2zM316 258h2v1h-2zM412 258h1v1h-1zM80 259h1v1h-1zM98 259h1v1h-1zM112 259h1v1h-1zM157 259h1v1h-1zM168 259h1v1h-1zM204 259h1v1h-1zM221 259h1v1h-1zM254 259h1v1h-1zM271 259h1v1h-1zM307 259h1v1h-1zM318 259h1v1h-1zM412 259h1v1h-1zM98 260h1v1h-1zM112 260h1v1h-1zM158 260h3v1h-3zM166 260h2v1h-2zM205 260h1v1h-1zM220 260h1v1h-1zM254 260h1v1h-1zM271 260h1v1h-1zM306 260h1v1h-1zM319 260h1v1h-1zM412 260h1v1h-1zM97 261h2v1h-2zM112 261h1v1h-1zM160 261h6v1h-6zM205 261h1v1h-1zM220 261h1v1h-1zM254 261h1v1h-1zM271 261h1v1h-1zM305 261h1v1h-1zM320 261h1v1h-1zM361 261h4v1h-4zM412 261h1v1h-1zM97 262h2v1h-2zM112 262h1v1h-1zM206 262h1v1h-1zM219 262h1v1h-1zM254 262h1v1h-1zM271 262h1v1h-1zM305 262h1v1h-1zM320 262h1v1h-1zM358 262h3v1h-3zM365 262h3v1h-3zM412 262h1v1h-1zM96 263h1v1h-1zM98 263h1v1h-1zM112 263h1v1h-1zM207 263h1v1h-1zM218 263h1v1h-1zM254 263h1v1h-1zM271 263h1v1h-1zM304 263h1v1h-1zM321 263h1v1h-1zM357 263h1v1h-1zM367 263h2v1h-2zM412 263h1v1h-1zM95 264h1v1h-1zM98 264h1v1h-1zM112 264h1v1h-1zM208 264h2v1h-2zM217 264h1v1h-1zM254 264h1v1h-1zM271 264h1v1h-1zM304 264h1v1h-1zM321 264h1v1h-1zM356 264h1v1h-1zM369 264h1v1h-1zM412 264h1v1h-1zM95 265h1v1h-1zM98 265h1v1h-1zM111 265h1v1h-1zM209 265h8v1h-8zM255 265h1v1h-1zM270 265h1v1h-1zM304 265h1v1h-1zM321 265h1v1h-1zM355 265h1v1h-1zM370 265h1v1h-1zM412 265h1v1h-1zM94 266h1v1h-1zM98 266h1v1h-1zM111 266h1v1h-1zM255 266h1v1h-1zM270 266h1v1h-1zM304 266h1v1h-1zM321 266h1v1h-1zM355 266h1v1h-1zM370 266h1v1h-1zM412 266h1v1h-1zM94 267h1v1h-1zM98 267h1v1h-1zM111 267h1v1h-1zM256 267h1v1h-1zM269 267h1v1h-1zM304 267h1v1h-1zM321 267h1v1h-1zM354 267h1v1h-1zM371 267h1v1h-1zM411 267h1v1h-1zM93 268h1v1h-1zM98 268h1v1h-1zM111 268h1v1h-1zM257 268h2v1h-2zM267 268h2v1h-2zM304 268h1v1h-1zM321 268h1v1h-1zM354 268h1v1h-1zM371 268h1v1h-1zM411 268h1v1h-1zM92 269h1v1h-1zM98 269h1v1h-1zM111 269h1v1h-1zM259 269h3v1h-3zM265 269h2v1h-2zM305 269h1v1h-1zM320 269h1v1h-1zM354 269h1v1h-1zM371 269h1v1h-1zM411 269h1v1h-1zM92 270h1v1h-1zM98 270h1v1h-1zM111 270h1v1h-1zM261 270h4v1h-4zM305 270h1v1h-1zM320 270h1v1h-1zM354 270h1v1h-1zM371 270h1v1h-1zM411 270h1v1h-1zM91 271h1v1h-1zM98 271h1v1h-1zM111 271h1v1h-1zM306 271h1v1h-1zM319 271h1v1h-1zM354 271h1v1h-1zM371 271h1v1h-1zM411 271h1v1h-1zM90 272h1v1h-1zM98 272h1v1h-1zM111 272h1v1h-1zM307 272h1v1h-1zM318 272h1v1h-1zM354 272h1v1h-1zM371 272h1v1h-1zM411 272h1v1h-1zM90 273h1v1h-1zM98 273h1v1h-1zM111 273h1v1h-1zM308 273h2v1h-2zM316 273h2v1h-2zM354 273h1v1h-1zM370 273h1v1h-1zM411 273h1v1h-1zM89 274h1v1h-1zM98 274h1v1h-1zM111 274h1v1h-1zM310 274h6v1h-6zM355 274h1v1h-1zM370 274h1v1h-1zM411 274h1v1h-1zM89 275h1v1h-1zM98 275h1v1h-1zM111 275h1v1h-1zM356 275h1v1h-1zM369 275h1v1h-1zM411 275h1v1h-1zM88 276h1v1h-1zM98 276h1v1h-1zM110 276h1v1h-1zM356 276h2v1h-2zM368 276h1v1h-1zM411 276h1v1h-1zM87 277h1v1h-1zM98 277h1v1h-1zM110 277h1v1h-1zM357 277h2v1h-2zM367 277h1v1h-1zM411 277h1v1h-1zM87 278h1v1h-1zM98 278h1v1h-1zM110 278h1v1h-1zM160 278h1v1h-1zM359 278h8v1h-8zM411 278h1v1h-1zM86 279h1v1h-1zM98 279h1v1h-1zM110 279h1v1h-1zM156 279h8v1h-8zM410 279h1v1h-1zM85 280h1v1h-1zM98 280h1v1h-1zM110 280h1v1h-1zM155 280h1v1h-1zM164 280h2v1h-2zM410 280h1v1h-1zM85 281h1v1h-1zM98 281h1v1h-1zM110 281h1v1h-1zM154 281h1v1h-1zM166 281h1v1h-1zM410 281h1v1h-1zM84 282h1v1h-1zM98 282h1v1h-1zM110 282h1v1h-1zM153 282h1v1h-1zM167 282h1v1h-1zM410 282h1v1h-1zM84 283h1v1h-1zM98 283h1v1h-1zM110 283h1v1h-1zM152 283h1v1h-1zM167 283h1v1h-1zM207 283h6v1h-6zM410 283h1v1h-1zM83 284h1v1h-1zM98 284h1v1h-1zM110 284h1v1h-1zM152 284h1v1h-1zM168 284h1v1h-1zM205 284h2v1h-2zM213 284h2v1h-2zM410 284h1v1h-1zM82 285h1v1h-1zM98 285h1v1h-1zM110 285h1v1h-1zM151 285h1v1h-1zM168 285h1v1h-1zM204 285h1v1h-1zM215 285h1v1h-1zM410 285h1v1h-1zM82 286h1v1h-1zM98 286h1v1h-1zM110 286h1v1h-1zM151 286h1v1h-1zM168 286h1v1h-1zM203 286h1v1h-1zM216 286h1v1h-1zM410 286h1v1h-1zM81 287h1v1h-1zM98 287h1v1h-1zM110 287h1v1h-1zM151 287h1v1h-1zM168 287h1v1h-1zM202 287h1v1h-1zM217 287h1v1h-1zM258 287h4v1h-4zM410 287h1v1h-1zM80 288h1v1h-1zM98 288h1v1h-1zM109 288h1v1h-1zM151 288h1v1h-1zM168 288h1v1h-1zM202 288h1v1h-1zM217 288h1v1h-1zM256 288h2v1h-2zM262 288h3v1h-3zM410 288h1v1h-1zM80 289h1v1h-1zM98 289h1v1h-1zM109 289h1v1h-1zM151 289h1v1h-1zM168 289h1v1h-1zM201 289h1v1h-1zM218 289h1v1h-1zM254 289h2v1h-2zM264 289h2v1h-2zM410 289h1v1h-1zM98 290h1v1h-1zM109 290h1v1h-1zM151 290h2v1h-2zM168 290h1v1h-1zM201 290h1v1h-1zM218 290h1v1h-1zM253 290h1v1h-1zM266 290h1v1h-1zM409 290h1v1h-1zM97 291h2v1h-2zM109 291h1v1h-1zM152 291h1v1h-1zM167 291h1v1h-1zM201 291h1v1h-1zM218 291h1v1h-1zM252 291h1v1h-1zM267 291h1v1h-1zM409 291h1v1h-1zM97 292h2v1h-2zM109 292h1v1h-1zM153 292h1v1h-1zM167 292h1v1h-1zM201 292h1v1h-1zM218 292h1v1h-1zM252 292h1v1h-1zM267 292h1v1h-1zM306 292h8v1h-8zM409 292h1v1h-1zM96 293h1v1h-1zM98 293h1v1h-1zM109 293h1v1h-1zM153 293h1v1h-1zM166 293h1v1h-1zM201 293h1v1h-1zM218 293h1v1h-1zM251 293h1v1h-1zM268 293h1v1h-1zM305 293h1v1h-1zM314 293h1v1h-1zM409 293h1v1h-1zM95 294h1v1h-1zM98 294h1v1h-1zM109 294h1v1h-1zM154 294h2v1h-2zM164 294h2v1h-2zM201 294h1v1h-1zM218 294h1v1h-1zM251 294h1v1h-1zM268 294h1v1h-1zM304 294h1v1h-1zM315 294h1v1h-1zM409 294h1v1h-1zM95 295h1v1h-1zM98 295h1v1h-1zM109 295h1v1h-1zM156 295h2v1h-2zM162 295h3v1h-3zM202 295h1v1h-1zM217 295h1v1h-1zM251 295h1v1h-1zM268 295h1v1h-1zM303 295h1v1h-1zM316 295h1v1h-1zM409 295h1v1h-1zM94 296h1v1h-1zM98 296h1v1h-1zM109 296h1v1h-1zM158 296h4v1h-4zM202 296h1v1h-1zM217 296h1v1h-1zM251 296h1v1h-1zM268 296h1v1h-1zM302 296h1v1h-1zM317 296h1v1h-1zM357 296h6v1h-6zM409 296h1v1h-1zM94 297h1v1h-1zM98 297h1v1h-1zM109 297h1v1h-1zM203 297h1v1h-1zM216 297h1v1h-1zM251 297h1v1h-1zM268 297h1v1h-1zM301 297h2v1h-2zM317 297h1v1h-1zM355 297h2v1h-2zM363 297h2v1h-2zM409 297h1v1h-1zM93 298h1v1h-1zM98 298h1v1h-1zM109 298h1v1h-1zM204 298h1v1h-1zM215 298h1v1h-1zM251 298h1v1h-1zM268 298h1v1h-1zM301 298h1v1h-1zM318 298h1v1h-1zM354 298h1v1h-1zM365 298h1v1h-1zM409 298h1v1h-1zM92 299h1v1h-1zM98 299h1v1h-1zM108 299h1v1h-1zM205 299h2v1h-2zM213 299h2v1h-2zM252 299h1v1h-1zM268 299h1v1h-1zM301 299h1v1h-1zM318 299h1v1h-1zM353 299h1v1h-1zM366 299h1v1h-1zM409 299h1v1h-1zM92 300h1v1h-1zM98 300h1v1h-1zM108 300h1v1h-1zM207 300h6v1h-6zM252 300h1v1h-1zM267 300h1v1h-1zM301 300h1v1h-1zM318 300h1v1h-1zM352 300h1v1h-1zM367 300h1v1h-1zM409 300h1v1h-1zM91 301h1v1h-1zM98 301h1v1h-1zM108 301h1v1h-1zM253 301h1v1h-1zM266 301h1v1h-1zM301 301h1v1h-1zM318 301h1v1h-1zM352 301h1v1h-1zM367 301h1v1h-1zM409 301h1v1h-1zM90 302h1v1h-1zM98 302h1v1h-1zM108 302h1v1h-1zM254 302h1v1h-1zM265 302h2v1h-2zM301 302h1v1h-1zM318 302h1v1h-1zM351 302h1v1h-1zM368 302h1v1h-1zM408 302h1v1h-1zM90 303h1v1h-1zM98 303h1v1h-1zM108 303h1v1h-1zM255 303h1v1h-1zM264 303h2v1h-2zM301 303h1v1h-1zM318 303h1v1h-1zM351 303h1v1h-1zM368 303h1v1h-1zM408 303h1v1h-1zM89 304h1v1h-1zM98 304h1v1h-1zM108 304h1v1h-1zM256 304h8v1h-8zM302 304h1v1h-1zM317 304h1v1h-1zM351 304h1v1h-1zM368 304h1v1h-1zM408 304h1v1h-1zM89 305h1v1h-1zM98 305h1v1h-1zM108 305h1v1h-1zM302 305h1v1h-1zM317 305h1v1h-1zM351 305h1v1h-1zM368 305h1v1h-1zM408 305h1v1h-1zM88 306h1v1h-1zM98 306h1v1h-1zM108 306h1v1h-1zM303 306h1v1h-1zM316 306h1v1h-1zM351 306h1v1h-1zM368 306h1v1h-1zM408 306h1v1h-1zM87 307h1v1h-1zM98 307h1v1h-1zM108 307h1v1h-1zM304 307h1v1h-1zM315 307h1v1h-1zM351 307h1v1h-1zM368 307h1v1h-1zM408 307h1v1h-1zM87 308h1v1h-1zM98 308h1v1h-1zM108 308h1v1h-1zM305 308h3v1h-3zM312 308h3v1h-3zM352 308h1v1h-1zM367 308h1v1h-1zM408 308h1v1h-1zM86 309h1v1h-1zM98 309h1v1h-1zM108 309h1v1h-1zM308 309h4v1h-4zM352 309h1v1h-1zM367 309h1v1h-1zM408 309h1v1h-1zM85 310h1v1h-1zM98 310h1v1h-1zM108 310h1v1h-1zM353 310h1v1h-1zM366 310h1v1h-1zM408 310h1v1h-1zM85 311h1v1h-1zM98 311h1v1h-1zM107 311h1v1h-1zM354 311h1v1h-1zM365 311h1v1h-1zM408 311h1v1h-1zM84 312h1v1h-1zM98 312h1v1h-1zM107 312h1v1h-1zM355 312h2v1h-2zM363 312h2v1h-2zM408 312h1v1h-1zM84 313h1v1h-1zM98 313h1v1h-1zM107 313h1v1h-1zM155 313h4v1h-4zM357 313h6v1h-6zM407 313h1v1h-1zM83 314h1v1h-1zM98 314h1v1h-1zM107 314h1v1h-1zM153 314h2v1h-2zM159 314h3v1h-3zM407 314h1v1h-1zM82 315h1v1h-1zM98 315h1v1h-1zM107 315h1v1h-1zM151 315h2v1h-2zM162 315h1v1h-1zM407 315h1v1h-1zM82 316h1v1h-1zM98 316h1v1h-1zM107 316h1v1h-1zM150 316h1v1h-1zM163 316h1v1h-1zM407 316h1v1h-1zM81 317h1v1h-1zM98 317h1v1h-1zM107 317h1v1h-1zM150 317h1v1h-1zM164 317h1v1h-1zM407 317h1v1h-1zM80 318h1v1h-1zM98 318h1v1h-1zM107 318h1v1h-1zM149 318h1v1h-1zM164 318h1v1h-1zM203 318h8v1h-8zM407 318h1v1h-1zM80 319h1v1h-1zM98 319h1v1h-1zM107 319h1v1h-1zM148 319h2v1h-2zM165 319h1v1h-1zM202 319h1v1h-1zM211 319h1v1h-1zM407 319h1v1h-1zM98 320h1v1h-1zM107 320h1v1h-1zM148 320h1v1h-1zM165 320h1v1h-1zM201 320h1v1h-1zM212 320h2v1h-2zM407 320h1v1h-1zM97 321h2v1h-2zM107 321h1v1h-1zM148 321h1v1h-1zM165 321h1v1h-1zM200 321h1v1h-1zM213 321h1v1h-1zM407 321h1v1h-1zM97 322h2v1h-2zM106 322h1v1h-1zM148 322h1v1h-1zM165 322h1v1h-1zM199 322h1v1h-1zM214 322h1v1h-1zM254 322h6v1h-6zM407 322h1v1h-1zM96 323h1v1h-1zM98 323h1v1h-1zM106 323h1v1h-1zM148 323h1v1h-1zM165 323h1v1h-1zM199 323h1v1h-1zM215 323h1v1h-1zM252 323h2v1h-2zM260 323h2v1h-2zM407 323h1v1h-1zM95 324h1v1h-1zM98 324h1v1h-1zM106 324h1v1h-1zM148 324h1v1h-1zM165 324h1v1h-1zM198 324h1v1h-1zM215 324h1v1h-1zM251 324h1v1h-1zM262 324h1v1h-1zM407 324h1v1h-1zM95 325h1v1h-1zM98 325h1v1h-1zM106 325h1v1h-1zM149 325h1v1h-1zM165 325h1v1h-1zM198 325h1v1h-1zM215 325h1v1h-1zM250 325h1v1h-1zM263 325h1v1h-1zM406 325h1v1h-1zM94 326h1v1h-1zM98 326h1v1h-1zM106 326h1v1h-1zM149 326h1v1h-1zM164 326h1v1h-1zM198 326h1v1h-1zM215 326h1v1h-1zM249 326h1v1h-1zM264 326h1v1h-1zM306 326h2v1h-2zM406 326h1v1h-1zM94 327h1v1h-1zM98 327h1v1h-1zM106 327h1v1h-1zM150 327h1v1h-1zM164 327h1v1h-1zM198 327h1v1h-1zM215 327h1v1h-1zM249 327h1v1h-1zM264 327h1v1h-1zM303 327h3v1h-3zM308 327h3v1h-3zM406 327h1v1h-1zM93 328h1v1h-1zM98 328h1v1h-1zM106 328h1v1h-1zM151 328h1v1h-1zM163 328h1v1h-1zM198 328h1v1h-1zM215 328h1v1h-1zM248 328h1v1h-1zM265 328h1v1h-1zM301 328h2v1h-2zM311 328h2v1h-2zM406 328h1v1h-1zM92 329h1v1h-1zM98 329h1v1h-1zM106 329h1v1h-1zM152 329h1v1h-1zM161 329h2v1h-2zM198 329h1v1h-1zM215 329h1v1h-1zM248 329h1v1h-1zM265 329h1v1h-1zM300 329h1v1h-1zM313 329h1v1h-1zM406 329h1v1h-1zM92 330h1v1h-1zM98 330h1v1h-1zM106 330h1v1h-1zM153 330h8v1h-8zM199 330h1v1h-1zM214 330h1v1h-1zM248 330h1v1h-1zM265 330h1v1h-1zM299 330h2v1h-2zM313 330h1v1h-1zM406 330h1v1h-1zM91 331h1v1h-1zM98 331h1v1h-1zM106 331h1v1h-1zM156 331h2v1h-2zM199 331h1v1h-1zM214 331h1v1h-1zM248 331h1v1h-1zM265 331h1v1h-1zM299 331h1v1h-1zM314 331h1v1h-1zM354 331h6v1h-6zM406 331h1v1h-1zM90 332h1v1h-1zM98 332h1v1h-1zM106 332h1v1h-1zM200 332h1v1h-1zM213 332h1v1h-1zM248 332h1v1h-1zM265 332h1v1h-1zM298 332h1v1h-1zM315 332h1v1h-1zM352 332h2v1h-2zM360 332h2v1h-2zM406 332h1v1h-1zM90 333h1v1h-1zM98 333h1v1h-1zM106 333h1v1h-1zM201 333h1v1h-1zM212 333h1v1h-1zM248 333h1v1h-1zM265 333h1v1h-1zM298 333h1v1h-1zM315 333h1v1h-1zM351 333h1v1h-1zM362 333h1v1h-1zM406 333h1v1h-1zM89 334h1v1h-1zM98 334h1v1h-1zM105 334h1v1h-1zM202 334h3v1h-3zM210 334h2v1h-2zM249 334h1v1h-1zM264 334h1v1h-1zM298 334h1v1h-1zM315 334h1v1h-1zM350 334h1v1h-1zM363 334h1v1h-1zM406 334h1v1h-1zM89 335h1v1h-1zM98 335h1v1h-1zM105 335h1v1h-1zM204 335h6v1h-6zM249 335h1v1h-1zM264 335h1v1h-1zM298 335h1v1h-1zM315 335h1v1h-1zM349 335h1v1h-1zM364 335h1v1h-1zM406 335h1v1h-1zM88 336h1v1h-1zM98 336h1v1h-1zM105 336h1v1h-1zM250 336h1v1h-1zM263 336h1v1h-1zM298 336h1v1h-1zM315 336h1v1h-1zM349 336h1v1h-1zM364 336h1v1h-1zM405 336h1v1h-1zM87 337h1v1h-1zM98 337h1v1h-1zM105 337h1v1h-1zM251 337h1v1h-1zM262 337h1v1h-1zM298 337h1v1h-1zM315 337h1v1h-1zM348 337h1v1h-1zM365 337h1v1h-1zM405 337h1v1h-1zM87 338h1v1h-1zM98 338h1v1h-1zM105 338h1v1h-1zM252 338h2v1h-2zM261 338h1v1h-1zM298 338h1v1h-1zM315 338h1v1h-1zM348 338h1v1h-1zM365 338h1v1h-1zM405 338h1v1h-1zM86 339h1v1h-1zM98 339h1v1h-1zM105 339h1v1h-1zM253 339h8v1h-8zM299 339h1v1h-1zM314 339h1v1h-1zM348 339h1v1h-1zM365 339h1v1h-1zM405 339h1v1h-1zM85 340h1v1h-1zM98 340h1v1h-1zM105 340h1v1h-1zM299 340h1v1h-1zM313 340h2v1h-2zM348 340h1v1h-1zM365 340h1v1h-1zM405 340h1v1h-1zM85 341h1v1h-1zM98 341h1v1h-1zM105 341h1v1h-1zM300 341h1v1h-1zM313 341h1v1h-1zM348 341h1v1h-1zM365 341h1v1h-1zM405 341h1v1h-1zM84 342h1v1h-1zM98 342h1v1h-1zM105 342h1v1h-1zM301 342h2v1h-2zM311 342h2v1h-2zM348 342h1v1h-1zM365 342h1v1h-1zM405 342h1v1h-1zM84 343h1v1h-1zM98 343h1v1h-1zM105 343h1v1h-1zM303 343h3v1h-3zM308 343h3v1h-3zM349 343h1v1h-1zM364 343h1v1h-1zM405 343h1v1h-1zM83 344h1v1h-1zM98 344h1v1h-1zM105 344h1v1h-1zM305 344h4v1h-4zM349 344h1v1h-1zM364 344h1v1h-1zM405 344h1v1h-1zM82 345h1v1h-1zM98 345h1v1h-1zM104 345h1v1h-1zM350 345h1v1h-1zM363 345h1v1h-1zM405 345h1v1h-1zM82 346h1v1h-1zM98 346h1v1h-1zM104 346h1v1h-1zM351 346h1v1h-1zM362 346h1v1h-1zM405 346h1v1h-1zM81 347h1v1h-1zM98 347h1v1h-1zM104 347h1v1h-1zM352 347h2v1h-2zM360 347h2v1h-2zM405 347h1v1h-1zM80 348h1v1h-1zM98 348h1v1h-1zM104 348h1v1h-1zM151 348h6v1h-6zM354 348h6v1h-6zM404 348h1v1h-1zM80 349h1v1h-1zM98 349h1v1h-1zM104 349h1v1h-1zM149 349h3v1h-3zM157 349h2v1h-2zM404 349h1v1h-1zM98 350h1v1h-1zM104 350h1v1h-1zM148 350h1v1h-1zM159 350h1v1h-1zM404 350h1v1h-1zM97 351h2v1h-2zM104 351h1v1h-1zM147 351h1v1h-1zM160 351h1v1h-1zM404 351h1v1h-1zM97 352h2v1h-2zM104 352h1v1h-1zM146 352h1v1h-1zM161 352h1v1h-1zM204 352h1v1h-1zM404 352h1v1h-1zM96 353h1v1h-1zM98 353h1v1h-1zM104 353h1v1h-1zM146 353h1v1h-1zM161 353h1v1h-1zM200 353h8v1h-8zM404 353h1v1h-1zM95 354h1v1h-1zM98 354h1v1h-1zM104 354h1v1h-1zM145 354h2v1h-2zM162 354h1v1h-1zM198 354h2v1h-2zM208 354h2v1h-2zM404 354h1v1h-1zM95 355h1v1h-1zM98 355h1v1h-1zM104 355h1v1h-1zM145 355h1v1h-1zM162 355h1v1h-1zM198 355h1v1h-1zM210 355h1v1h-1zM404 355h1v1h-1zM94 356h1v1h-1zM98 356h1v1h-1zM103 356h1v1h-1zM145 356h1v1h-1zM162 356h1v1h-1zM197 356h1v1h-1zM211 356h1v1h-1zM404 356h1v1h-1zM94 357h1v1h-1zM98 357h1v1h-1zM103 357h1v1h-1zM145 357h1v1h-1zM162 357h1v1h-1zM196 357h1v1h-1zM211 357h1v1h-1zM251 357h6v1h-6zM404 357h1v1h-1zM93 358h1v1h-1zM98 358h1v1h-1zM103 358h1v1h-1zM145 358h1v1h-1zM162 358h1v1h-1zM196 358h1v1h-1zM212 358h1v1h-1zM249 358h2v1h-2zM257 358h2v1h-2zM404 358h1v1h-1zM92 359h1v1h-1zM98 359h1v1h-1zM103 359h1v1h-1zM145 359h1v1h-1zM162 359h1v1h-1zM195 359h1v1h-1zM212 359h1v1h-1zM248 359h1v1h-1zM259 359h1v1h-1zM403 359h1v1h-1zM92 360h1v1h-1zM98 360h1v1h-1zM103 360h1v1h-1zM146 360h1v1h-1zM162 360h1v1h-1zM195 360h1v1h-1zM212 360h1v1h-1zM247 360h1v1h-1zM260 360h1v1h-1zM403 360h1v1h-1zM91 361h1v1h-1zM98 361h1v1h-1zM103 361h1v1h-1zM146 361h1v1h-1zM161 361h1v1h-1zM195 361h1v1h-1zM212 361h1v1h-1zM246 361h1v1h-1zM261 361h1v1h-1zM302 361h4v1h-4zM403 361h1v1h-1zM90 362h1v1h-1zM98 362h1v1h-1zM103 362h1v1h-1zM147 362h1v1h-1zM160 362h1v1h-1zM195 362h1v1h-1zM212 362h1v1h-1zM246 362h1v1h-1zM261 362h1v1h-1zM299 362h3v1h-3zM306 362h3v1h-3zM403 362h1v1h-1zM90 363h1v1h-1zM98 363h1v1h-1zM103 363h1v1h-1zM148 363h1v1h-1zM159 363h2v1h-2zM195 363h1v1h-1zM212 363h1v1h-1zM245 363h1v1h-1zM262 363h1v1h-1zM298 363h2v1h-2zM308 363h2v1h-2zM403 363h1v1h-1zM89 364h1v1h-1zM98 364h1v1h-1zM103 364h1v1h-1zM149 364h2v1h-2zM158 364h1v1h-1zM195 364h2v1h-2zM212 364h1v1h-1zM245 364h1v1h-1zM262 364h1v1h-1zM297 364h1v1h-1zM310 364h1v1h-1zM403 364h1v1h-1zM89 365h1v1h-1zM98 365h1v1h-1zM103 365h1v1h-1zM150 365h8v1h-8zM196 365h1v1h-1zM211 365h1v1h-1zM245 365h1v1h-1zM262 365h1v1h-1zM296 365h1v1h-1zM311 365h1v1h-1zM403 365h1v1h-1zM88 366h1v1h-1zM98 366h1v1h-1zM103 366h1v1h-1zM197 366h1v1h-1zM211 366h1v1h-1zM245 366h1v1h-1zM262 366h1v1h-1zM296 366h1v1h-1zM311 366h1v1h-1zM350 366h8v1h-8zM403 366h1v1h-1zM87 367h1v1h-1zM98 367h1v1h-1zM103 367h1v1h-1zM197 367h1v1h-1zM210 367h1v1h-1zM245 367h1v1h-1zM262 367h1v1h-1zM295 367h1v1h-1zM312 367h1v1h-1zM349 367h1v1h-1zM358 367h1v1h-1zM403 367h1v1h-1zM87 368h1v1h-1zM98 368h1v1h-1zM102 368h1v1h-1zM198 368h2v1h-2zM208 368h2v1h-2zM245 368h1v1h-1zM262 368h1v1h-1zM295 368h1v1h-1zM312 368h1v1h-1zM347 368h2v1h-2zM359 368h1v1h-1zM403 368h1v1h-1zM86 369h1v1h-1zM98 369h1v1h-1zM102 369h1v1h-1zM200 369h2v1h-2zM206 369h2v1h-2zM246 369h1v1h-1zM261 369h1v1h-1zM295 369h1v1h-1zM312 369h1v1h-1zM347 369h1v1h-1zM360 369h1v1h-1zM403 369h1v1h-1zM85 370h1v1h-1zM98 370h1v1h-1zM102 370h1v1h-1zM202 370h4v1h-4zM246 370h1v1h-1zM261 370h1v1h-1zM295 370h1v1h-1zM312 370h1v1h-1zM346 370h1v1h-1zM361 370h1v1h-1zM403 370h1v1h-1zM85 371h1v1h-1zM98 371h1v1h-1zM102 371h1v1h-1zM247 371h1v1h-1zM260 371h1v1h-1zM295 371h1v1h-1zM312 371h1v1h-1zM345 371h1v1h-1zM361 371h1v1h-1zM402 371h1v1h-1zM84 372h1v1h-1zM98 372h1v1h-1zM102 372h1v1h-1zM248 372h1v1h-1zM259 372h1v1h-1zM295 372h1v1h-1zM312 372h1v1h-1zM345 372h1v1h-1zM362 372h1v1h-1zM402 372h1v1h-1zM84 373h1v1h-1zM98 373h1v1h-1zM102 373h1v1h-1zM249 373h2v1h-2zM257 373h2v1h-2zM295 373h2v1h-2zM311 373h2v1h-2zM345 373h1v1h-1zM362 373h1v1h-1zM402 373h1v1h-1zM83 374h1v1h-1zM98 374h1v1h-1zM102 374h1v1h-1zM251 374h6v1h-6zM296 374h1v1h-1zM311 374h1v1h-1zM345 374h1v1h-1zM362 374h1v1h-1zM402 374h1v1h-1zM82 375h1v1h-1zM98 375h1v1h-1zM102 375h1v1h-1zM297 375h1v1h-1zM310 375h1v1h-1zM345 375h1v1h-1zM362 375h1v1h-1zM402 375h1v1h-1zM82 376h1v1h-1zM98 376h1v1h-1zM102 376h1v1h-1zM298 376h1v1h-1zM309 376h1v1h-1zM345 376h1v1h-1zM362 376h1v1h-1zM402 376h1v1h-1zM81 377h1v1h-1zM98 377h1v1h-1zM102 377h1v1h-1zM299 377h1v1h-1zM308 377h1v1h-1zM345 377h1v1h-1zM362 377h1v1h-1zM402 377h1v1h-1zM80 378h1v1h-1zM98 378h1v1h-1zM102 378h1v1h-1zM300 378h8v1h-8zM346 378h1v1h-1zM361 378h1v1h-1zM402 378h1v1h-1zM80 379h1v1h-1zM98 379h1v1h-1zM101 379h1v1h-1zM346 379h1v1h-1zM361 379h1v1h-1zM402 379h1v1h-1zM98 380h1v1h-1zM101 380h1v1h-1zM347 380h1v1h-1zM360 380h1v1h-1zM402 380h1v1h-1zM97 381h2v1h-2zM101 381h1v1h-1zM348 381h1v1h-1zM358 381h2v1h-2zM402 381h1v1h-1zM97 382h2v1h-2zM101 382h1v1h-1zM349 382h3v1h-3zM356 382h4v1h-4zM401 382h1v1h-1zM96 383h1v1h-1zM98 383h1v1h-1zM101 383h1v1h-1zM352 383h4v1h-4zM359 383h3v1h-3zM401 383h1v1h-1zM95 384h1v1h-1zM98 384h1v1h-1zM101 384h1v1h-1zM359 384h2v1h-2zM362 384h1v1h-1zM401 384h1v1h-1zM95 385h1v1h-1zM98 385h1v1h-1zM101 385h1v1h-1zM359 385h1v1h-1zM361 385h1v1h-1zM363 385h2v1h-2zM401 385h1v1h-1zM94 386h1v1h-1zM98 386h1v1h-1zM101 386h10v1h-10zM360 386h1v1h-1zM362 386h1v1h-1zM365 386h2v1h-2zM401 386h1v1h-1zM94 387h1v1h-1zM98 387h1v1h-1zM111 387h11v1h-11zM360 387h1v1h-1zM362 387h1v1h-1zM367 387h2v1h-2zM401 387h1v1h-1zM93 388h1v1h-1zM98 388h1v1h-1zM122 388h12v1h-12zM360 388h1v1h-1zM363 388h1v1h-1zM369 388h2v1h-2zM401 388h1v1h-1zM92 389h1v1h-1zM98 389h1v1h-1zM134 389h11v1h-11zM360 389h1v1h-1zM364 389h1v1h-1zM371 389h2v1h-2zM401 389h1v1h-1zM92 390h1v1h-1zM98 390h1v1h-1zM145 390h12v1h-12zM360 390h1v1h-1zM365 390h1v1h-1zM373 390h2v1h-2zM401 390h1v1h-1zM91 391h1v1h-1zM98 391h1v1h-1zM157 391h11v1h-11zM361 391h1v1h-1zM365 391h1v1h-1zM375 391h1v1h-1zM401 391h1v1h-1zM90 392h1v1h-1zM98 392h1v1h-1zM168 392h12v1h-12zM361 392h1v1h-1zM366 392h1v1h-1zM401 392h1v1h-1zM90 393h1v1h-1zM98 393h1v1h-1zM180 393h11v1h-11zM361 393h1v1h-1zM367 393h1v1h-1zM401 393h1v1h-1zM89 394h1v1h-1zM98 394h1v1h-1zM191 394h12v1h-12zM361 394h1v1h-1zM368 394h1v1h-1zM400 394h1v1h-1zM89 395h1v1h-1zM98 395h1v1h-1zM203 395h11v1h-11zM361 395h1v1h-1zM369 395h1v1h-1zM400 395h1v1h-1zM88 396h1v1h-1zM98 396h1v1h-1zM214 396h12v1h-12zM362 396h1v1h-1zM369 396h1v1h-1zM400 396h1v1h-1zM87 397h1v1h-1zM98 397h1v1h-1zM226 397h11v1h-11zM362 397h1v1h-1zM370 397h1v1h-1zM400 397h1v1h-1zM87 398h1v1h-1zM98 398h1v1h-1zM237 398h12v1h-12zM371 398h1v1h-1zM400 398h1v1h-1zM86 399h1v1h-1zM98 399h1v1h-1zM249 399h11v1h-11zM372 399h1v1h-1zM400 399h1v1h-1zM85 400h1v1h-1zM98 400h1v1h-1zM260 400h12v1h-12zM372 400h1v1h-1zM400 400h1v1h-1zM85 401h1v1h-1zM98 401h1v1h-1zM272 401h11v1h-11zM373 401h1v1h-1zM400 401h1v1h-1zM84 402h1v1h-1zM98 402h1v1h-1zM283 402h12v1h-12zM374 402h1v1h-1zM400 402h1v1h-1zM84 403h1v1h-1zM98 403h1v1h-1zM295 403h11v1h-11zM375 403h1v1h-1zM400 403h1v1h-1zM83 404h1v1h-1zM98 404h1v1h-1zM306 404h12v1h-12zM375 404h1v1h-1zM400 404h1v1h-1zM82 405h1v1h-1zM98 405h1v1h-1zM318 405h11v1h-11zM376 405h1v1h-1zM399 405h1v1h-1zM82 406h1v1h-1zM98 406h1v1h-1zM329 406h12v1h-12zM377 406h1v1h-1zM399 406h1v1h-1zM81 407h1v1h-1zM98 407h1v1h-1zM341 407h11v1h-11zM378 407h1v1h-1zM399 407h1v1h-1zM80 408h1v1h-1zM98 408h1v1h-1zM352 408h12v1h-12zM378 408h1v1h-1zM399 408h1v1h-1zM80 409h1v1h-1zM98 409h1v1h-1zM364 409h11v1h-11zM379 409h1v1h-1zM399 409h1v1h-1zM98 410h1v1h-1zM375 410h12v1h-12zM399 410h1v1h-1zM98 411h1v1h-1zM381 411h1v1h-1zM387 411h11v1h-11zM399 411h1v1h-1zM98 412h1v1h-1zM382 412h1v1h-1zM398 412h2v1h-2zM98 413h1v1h-1zM382 413h1v1h-1zM98 414h1v1h-1zM383 414h1v1h-1zM98 415h1v1h-1zM384 415h1v1h-1zM98 416h1v1h-1zM385 416h1v1h-1zM98 417h1v1h-1zM385 417h1v1h-1zM98 418h1v1h-1zM386 418h1v1h-1zM98 419h1v1h-1zM387 419h1v1h-1zM98 420h1v1h-1zM388 420h1v1h-1zM98 421h1v1h-1zM388 421h1v1h-1zM98 422h1v1h-1zM389 422h1v1h-1zM98 423h1v1h-1zM390 423h1v1h-1zM98 424h1v1h-1zM391 424h1v1h-1zM98 425h1v1h-1zM392 425h1v1h-1zM98 426h1v1h-1zM392 426h1v1h-1zM98 427h1v1h-1zM393 427h1v1h-1zM410 427h1v1h-1zM443 427h1v1h-1zM485 427h1v1h-1zM98 428h1v1h-1zM394 428h1v1h-1zM410 428h1v1h-1zM431 428h1v1h-1zM443 428h1v1h-1zM447 428h1v1h-1zM458 428h1v1h-1zM470 428h1v1h-1zM485 428h1v1h-1zM492 428h1v1h-1zM98 429h1v1h-1zM395 429h1v1h-1zM410 429h1v1h-1zM431 429h1v1h-1zM442 429h1v1h-1zM448 429h1v1h-1zM458 429h13v1h-13zM485 429h1v1h-1zM492 429h1v1h-1zM98 430h1v1h-1zM395 430h1v1h-1zM410 430h1v1h-1zM426 430h1v1h-1zM431 430h1v1h-1zM442 430h1v1h-1zM448 430h1v1h-1zM458 430h1v1h-1zM470 430h1v1h-1zM476 430h1v1h-1zM485 430h1v1h-1zM491 430h1v1h-1zM501 430h1v1h-1zM505 430h1v1h-1zM528 430h1v1h-1zM98 431h1v1h-1zM396 431h1v1h-1zM410 431h1v1h-1zM423 431h4v1h-4zM431 431h1v1h-1zM441 431h1v1h-1zM448 431h1v1h-1zM458 431h13v1h-13zM476 431h1v1h-1zM485 431h1v1h-1zM491 431h1v1h-1zM501 431h13v1h-13zM528 431h1v1h-1zM98 432h1v1h-1zM397 432h1v1h-1zM410 432h1v1h-1zM423 432h1v1h-1zM426 432h1v1h-1zM431 432h1v1h-1zM441 432h1v1h-1zM449 432h1v1h-1zM458 432h1v1h-1zM462 432h1v1h-1zM466 432h1v1h-1zM470 432h1v1h-1zM476 432h1v1h-1zM485 432h1v1h-1zM491 432h1v1h-1zM501 432h1v1h-1zM505 432h1v1h-1zM509 432h1v1h-1zM513 432h1v1h-1zM528 432h1v1h-1zM398 433h1v1h-1zM410 433h7v1h-7zM423 433h1v1h-1zM426 433h1v1h-1zM440 433h1v1h-1zM449 433h1v1h-1zM458 433h1v1h-1zM462 433h1v1h-1zM466 433h1v1h-1zM470 433h1v1h-1zM475 433h1v1h-1zM485 433h1v1h-1zM490 433h1v1h-1zM501 433h1v1h-1zM505 433h1v1h-1zM508 433h1v1h-1zM513 433h1v1h-1zM518 433h4v1h-4zM529 433h1v1h-1zM398 434h1v1h-1zM410 434h1v1h-1zM423 434h1v1h-1zM426 434h1v1h-1zM431 434h6v1h-6zM440 434h2v1h-2zM458 434h1v1h-1zM462 434h1v1h-1zM466 434h1v1h-1zM470 434h1v1h-1zM475 434h1v1h-1zM485 434h1v1h-1zM490 434h1v1h-1zM501 434h1v1h-1zM505 434h1v1h-1zM508 434h1v1h-1zM513 434h1v1h-1zM518 434h1v1h-1zM522 434h1v1h-1zM529 434h1v1h-1zM399 435h1v1h-1zM410 435h1v1h-1zM423 435h1v1h-1zM426 435h5v1h-5zM440 435h2v1h-2zM444 435h10v1h-10zM458 435h13v1h-13zM475 435h1v1h-1zM485 435h1v1h-1zM489 435h7v1h-7zM501 435h1v1h-1zM505 435h1v1h-1zM507 435h1v1h-1zM513 435h1v1h-1zM517 435h1v1h-1zM522 435h1v1h-1zM529 435h1v1h-1zM400 436h1v1h-1zM410 436h1v1h-1zM423 436h1v1h-1zM426 436h1v1h-1zM433 436h1v1h-1zM439 436h1v1h-1zM441 436h1v1h-1zM451 436h1v1h-1zM458 436h1v1h-1zM475 436h1v1h-1zM485 436h1v1h-1zM489 436h1v1h-1zM495 436h1v1h-1zM501 436h1v1h-1zM505 436h1v1h-1zM507 436h1v1h-1zM512 436h1v1h-1zM516 436h1v1h-1zM523 436h1v1h-1zM529 436h1v1h-1zM401 437h1v1h-1zM410 437h1v1h-1zM423 437h1v1h-1zM426 437h1v1h-1zM433 437h1v1h-1zM439 437h1v1h-1zM441 437h1v1h-1zM451 437h1v1h-1zM458 437h1v1h-1zM475 437h1v1h-1zM485 437h1v1h-1zM489 437h1v1h-1zM495 437h1v1h-1zM501 437h1v1h-1zM505 437h2v1h-2zM512 437h1v1h-1zM523 437h1v1h-1zM529 437h1v1h-1zM401 438h1v1h-1zM407 438h1v1h-1zM410 438h1v1h-1zM414 438h1v1h-1zM423 438h4v1h-4zM430 438h1v1h-1zM434 438h1v1h-1zM438 438h1v1h-1zM441 438h1v1h-1zM451 438h1v1h-1zM458 438h1v1h-1zM475 438h1v1h-1zM480 438h8v1h-8zM489 438h1v1h-1zM495 438h1v1h-1zM501 438h5v1h-5zM512 438h1v1h-1zM523 438h1v1h-1zM529 438h1v1h-1zM402 439h1v1h-1zM407 439h8v1h-8zM423 439h1v1h-1zM426 439h1v1h-1zM429 439h1v1h-1zM435 439h1v1h-1zM438 439h1v1h-1zM441 439h1v1h-1zM445 439h1v1h-1zM451 439h1v1h-1zM457 439h16v1h-16zM475 439h1v1h-1zM485 439h1v1h-1zM489 439h1v1h-1zM495 439h1v1h-1zM501 439h1v1h-1zM505 439h8v1h-8zM523 439h1v1h-1zM529 439h1v1h-1zM403 440h1v1h-1zM407 440h1v1h-1zM414 440h1v1h-1zM423 440h1v1h-1zM426 440h1v1h-1zM429 440h1v1h-1zM435 440h1v1h-1zM437 440h1v1h-1zM441 440h1v1h-1zM445 440h1v1h-1zM451 440h1v1h-1zM460 440h1v1h-1zM475 440h1v1h-1zM485 440h1v1h-1zM489 440h1v1h-1zM495 440h1v1h-1zM501 440h1v1h-1zM505 440h2v1h-2zM512 440h1v1h-1zM522 440h1v1h-1zM529 440h1v1h-1zM404 441h1v1h-1zM407 441h1v1h-1zM414 441h1v1h-1zM423 441h1v1h-1zM426 441h1v1h-1zM428 441h1v1h-1zM437 441h1v1h-1zM441 441h1v1h-1zM445 441h1v1h-1zM451 441h1v1h-1zM460 441h8v1h-8zM475 441h1v1h-1zM485 441h1v1h-1zM489 441h1v1h-1zM495 441h1v1h-1zM501 441h1v1h-1zM505 441h2v1h-2zM512 441h1v1h-1zM522 441h1v1h-1zM529 441h1v1h-1zM405 442h1v1h-1zM407 442h1v1h-1zM414 442h1v1h-1zM422 442h1v1h-1zM426 442h1v1h-1zM430 442h1v1h-1zM436 442h2v1h-2zM441 442h1v1h-1zM446 442h1v1h-1zM450 442h1v1h-1zM460 442h1v1h-1zM467 442h1v1h-1zM475 442h1v1h-1zM485 442h1v1h-1zM487 442h1v1h-1zM489 442h7v1h-7zM501 442h1v1h-1zM504 442h3v1h-3zM512 442h1v1h-1zM522 442h1v1h-1zM529 442h1v1h-1zM407 443h1v1h-1zM414 443h1v1h-1zM422 443h1v1h-1zM426 443h1v1h-1zM431 443h1v1h-1zM435 443h1v1h-1zM441 443h1v1h-1zM446 443h1v1h-1zM450 443h1v1h-1zM460 443h1v1h-1zM467 443h1v1h-1zM475 443h1v1h-1zM485 443h2v1h-2zM489 443h1v1h-1zM495 443h1v1h-1zM501 443h1v1h-1zM503 443h1v1h-1zM506 443h1v1h-1zM512 443h1v1h-1zM521 443h1v1h-1zM529 443h1v1h-1zM407 444h1v1h-1zM414 444h1v1h-1zM422 444h1v1h-1zM426 444h1v1h-1zM431 444h1v1h-1zM435 444h1v1h-1zM441 444h1v1h-1zM446 444h1v1h-1zM450 444h1v1h-1zM460 444h1v1h-1zM467 444h1v1h-1zM475 444h1v1h-1zM483 444h3v1h-3zM489 444h1v1h-1zM495 444h1v1h-1zM501 444h2v1h-2zM506 444h1v1h-1zM512 444h1v1h-1zM521 444h1v1h-1zM529 444h1v1h-1zM407 445h8v1h-8zM422 445h5v1h-5zM431 445h1v1h-1zM434 445h1v1h-1zM441 445h1v1h-1zM446 445h1v1h-1zM450 445h1v1h-1zM460 445h8v1h-8zM475 445h1v1h-1zM481 445h2v1h-2zM485 445h1v1h-1zM489 445h1v1h-1zM495 445h1v1h-1zM501 445h1v1h-1zM506 445h7v1h-7zM521 445h1v1h-1zM529 445h1v1h-1zM422 446h1v1h-1zM426 446h1v1h-1zM432 446h2v1h-2zM441 446h1v1h-1zM447 446h1v1h-1zM450 446h1v1h-1zM460 446h1v1h-1zM467 446h1v1h-1zM475 446h1v1h-1zM485 446h1v1h-1zM489 446h1v1h-1zM495 446h1v1h-1zM520 446h1v1h-1zM529 446h1v1h-1zM422 447h1v1h-1zM426 447h1v1h-1zM432 447h1v1h-1zM441 447h1v1h-1zM447 447h1v1h-1zM450 447h1v1h-1zM460 447h1v1h-1zM467 447h1v1h-1zM475 447h1v1h-1zM485 447h1v1h-1zM489 447h1v1h-1zM495 447h1v1h-1zM520 447h1v1h-1zM529 447h1v1h-1zM405 448h1v1h-1zM409 448h1v1h-1zM412 448h1v1h-1zM415 448h1v1h-1zM422 448h1v1h-1zM426 448h1v1h-1zM431 448h1v1h-1zM433 448h1v1h-1zM441 448h1v1h-1zM450 448h1v1h-1zM460 448h8v1h-8zM475 448h1v1h-1zM485 448h1v1h-1zM489 448h1v1h-1zM495 448h1v1h-1zM520 448h1v1h-1zM529 448h1v1h-1zM405 449h1v1h-1zM409 449h1v1h-1zM413 449h1v1h-1zM415 449h1v1h-1zM421 449h1v1h-1zM426 449h1v1h-1zM431 449h1v1h-1zM433 449h1v1h-1zM441 449h1v1h-1zM450 449h1v1h-1zM460 449h1v1h-1zM467 449h1v1h-1zM475 449h1v1h-1zM485 449h1v1h-1zM489 449h1v1h-1zM495 449h1v1h-1zM500 449h1v1h-1zM503 449h1v1h-1zM507 449h1v1h-1zM511 449h1v1h-1zM519 449h1v1h-1zM529 449h1v1h-1zM405 450h1v1h-1zM409 450h1v1h-1zM413 450h1v1h-1zM415 450h1v1h-1zM421 450h1v1h-1zM426 450h1v1h-1zM430 450h1v1h-1zM434 450h1v1h-1zM441 450h1v1h-1zM450 450h1v1h-1zM460 450h1v1h-1zM467 450h1v1h-1zM475 450h1v1h-1zM485 450h1v1h-1zM489 450h7v1h-7zM500 450h1v1h-1zM504 450h1v1h-1zM507 450h1v1h-1zM511 450h1v1h-1zM519 450h1v1h-1zM529 450h1v1h-1zM405 451h1v1h-1zM409 451h1v1h-1zM413 451h1v1h-1zM416 451h1v1h-1zM421 451h1v1h-1zM426 451h1v1h-1zM429 451h1v1h-1zM434 451h1v1h-1zM441 451h15v1h-15zM460 451h1v1h-1zM467 451h1v1h-1zM475 451h1v1h-1zM485 451h1v1h-1zM489 451h1v1h-1zM495 451h1v1h-1zM500 451h1v1h-1zM504 451h1v1h-1zM508 451h1v1h-1zM512 451h1v1h-1zM518 451h1v1h-1zM529 451h1v1h-1zM405 452h1v1h-1zM409 452h1v1h-1zM413 452h1v1h-1zM416 452h1v1h-1zM421 452h1v1h-1zM426 452h1v1h-1zM428 452h1v1h-1zM435 452h1v1h-1zM441 452h1v1h-1zM460 452h8v1h-8zM475 452h1v1h-1zM482 452h1v1h-1zM485 452h1v1h-1zM489 452h1v1h-1zM495 452h1v1h-1zM499 452h1v1h-1zM504 452h1v1h-1zM508 452h1v1h-1zM512 452h1v1h-1zM518 452h1v1h-1zM529 452h1v1h-1zM404 453h1v1h-1zM409 453h1v1h-1zM413 453h1v1h-1zM417 453h1v1h-1zM420 453h1v1h-1zM426 453h1v1h-1zM428 453h1v1h-1zM435 453h1v1h-1zM441 453h1v1h-1zM460 453h1v1h-1zM475 453h1v1h-1zM483 453h1v1h-1zM485 453h1v1h-1zM489 453h1v1h-1zM499 453h1v1h-1zM512 453h1v1h-1zM518 453h1v1h-1zM529 453h1v1h-1zM404 454h1v1h-1zM409 454h1v1h-1zM413 454h1v1h-1zM417 454h1v1h-1zM420 454h1v1h-1zM425 454h3v1h-3zM436 454h1v1h-1zM441 454h1v1h-1zM456 454h17v1h-17zM476 454h1v1h-1zM484 454h2v1h-2zM517 454h1v1h-1zM529 454h1v1h-1zM404 455h1v1h-1zM426 455h1v1h-1zM441 455h1v1h-1zM476 455h1v1h-1zM485 455h1v1h-1zM517 455h8v1h-8zM528 455h1v1h-1zM441 456h1v1h-1zM476 456h1v1h-1zM528 456h1v1h-1zM476 457h1v1h-1zM528 457h1v1h-1z"/><path shape-rendering="crispEdges" fill="#b0b0b0" d="M276 149h11v1h-11zM459 437h11v1h-11z"/><path shape-rendering="crispEdges" fill="#8a8a8a" d="M317 160h14v1h-14zM500 448h14v1h-14z"/><g shape-rendering="crispEdges"><rect x="44.5" y="88.5" width="6" height="6" fill="#1c2228" stroke="#fff" stroke-width="1"/><rect x="47" y="89" width="1" height="5" fill="#e4e6e8"/><rect x="45" y="91" width="5" height="1" fill="#e4e6e8"/><rect x="47" y="91" width="1" height="1" fill="#707880"/><rect x="52" y="91" width="1" height="1" fill="#e8e070"/><rect x="47" y="106" width="1" height="1" fill="#e8e070"/><rect x="47" y="46" width="1" height="1" fill="#e8e070"/></g></svg></body></html>
